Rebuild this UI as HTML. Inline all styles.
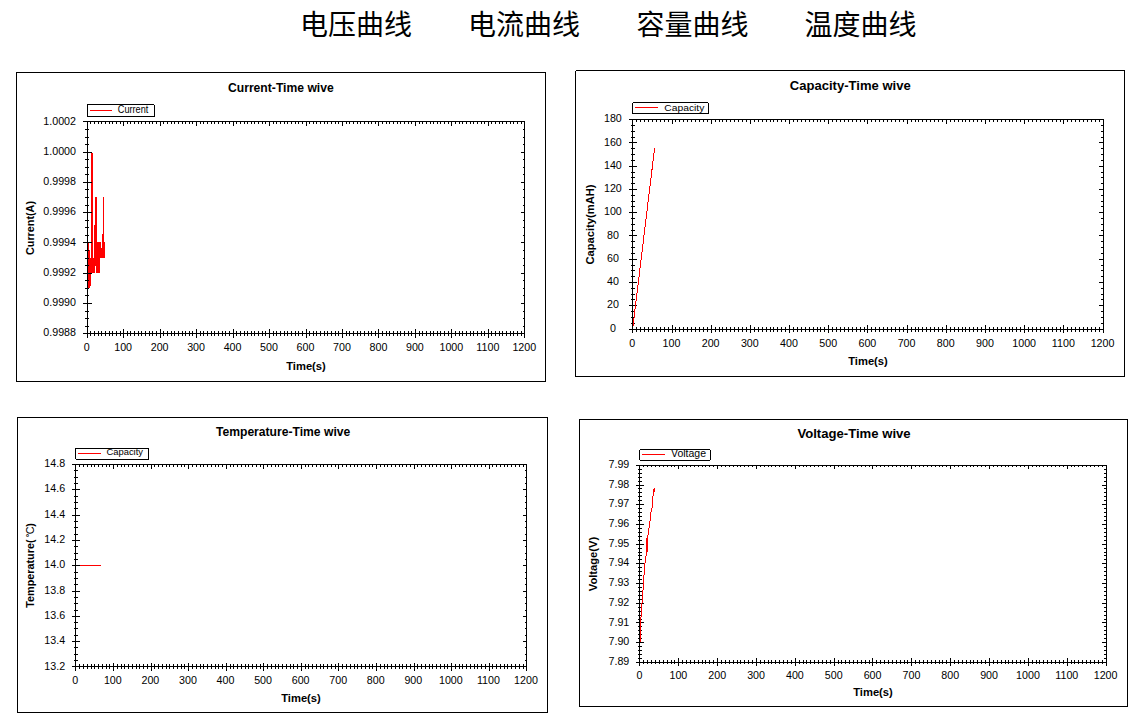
<!DOCTYPE html>
<html><head><meta charset="utf-8"><title>Curves</title>
<style>
html,body{margin:0;padding:0;background:#fff;}
body{width:1141px;height:726px;overflow:hidden;font-family:"Liberation Sans", sans-serif;}
svg{display:block;font-family:"Liberation Sans", sans-serif;}
svg rect{shape-rendering:crispEdges;}
svg text{fill:#000;}
</style></head><body>
<svg width="1141" height="726" viewBox="0 0 1141 726">
<rect x="0" y="0" width="1141" height="726" fill="#fff"/>
<text x="300" y="34.9" font-size="28" text-anchor="start" fill="#000" style='font-family:"Liberation Sans", "Noto Sans CJK SC", sans-serif;'>电压曲线</text>
<text x="468" y="34.9" font-size="28" text-anchor="start" fill="#000" style='font-family:"Liberation Sans", "Noto Sans CJK SC", sans-serif;'>电流曲线</text>
<text x="636.5" y="34.9" font-size="28" text-anchor="start" fill="#000" style='font-family:"Liberation Sans", "Noto Sans CJK SC", sans-serif;'>容量曲线</text>
<text x="804.5" y="34.9" font-size="28" text-anchor="start" fill="#000" style='font-family:"Liberation Sans", "Noto Sans CJK SC", sans-serif;'>温度曲线</text>
<rect x="16" y="72" width="530" height="1" fill="#000"/>
<rect x="16" y="381" width="530" height="1" fill="#000"/>
<rect x="16" y="72" width="1" height="310" fill="#000"/>
<rect x="545" y="72" width="1" height="310" fill="#000"/>
<rect x="88" y="242" width="1" height="46" fill="#f00"/><rect x="89" y="250" width="1" height="38" fill="#f00"/><rect x="90" y="258" width="1" height="28" fill="#f00"/><rect x="91" y="152" width="1" height="121" fill="#f00"/><rect x="92" y="153" width="1" height="120" fill="#f00"/><rect x="93" y="258" width="1" height="15" fill="#f00"/><rect x="94" y="225" width="1" height="48" fill="#f00"/><rect x="95" y="197" width="1" height="69" fill="#f00"/><rect x="96" y="197" width="1" height="76" fill="#f00"/><rect x="97" y="242" width="1" height="31" fill="#f00"/><rect x="98" y="242" width="1" height="31" fill="#f00"/><rect x="99" y="242" width="1" height="31" fill="#f00"/><rect x="100" y="242" width="1" height="16" fill="#f00"/><rect x="101" y="248" width="1" height="10" fill="#f00"/><rect x="102" y="234" width="1" height="24" fill="#f00"/><rect x="103" y="197" width="1" height="61" fill="#f00"/><rect x="104" y="242" width="1" height="16" fill="#f00"/>
<rect x="87" y="121" width="438" height="1" fill="#000"/>
<rect x="87" y="333" width="438" height="1" fill="#000"/>
<rect x="87" y="121" width="1" height="213" fill="#000"/>
<rect x="524" y="121" width="1" height="213" fill="#000"/>
<rect x="87" y="329" width="1" height="9" fill="#000"/>
<rect x="87" y="121" width="1" height="5" fill="#000"/>
<rect x="90" y="331" width="1" height="5" fill="#000"/>
<rect x="90" y="121" width="1" height="3" fill="#000"/>
<rect x="94" y="331" width="1" height="5" fill="#000"/>
<rect x="94" y="121" width="1" height="3" fill="#000"/>
<rect x="98" y="331" width="1" height="5" fill="#000"/>
<rect x="98" y="121" width="1" height="3" fill="#000"/>
<rect x="101" y="331" width="1" height="5" fill="#000"/>
<rect x="101" y="121" width="1" height="3" fill="#000"/>
<rect x="105" y="331" width="1" height="5" fill="#000"/>
<rect x="105" y="121" width="1" height="3" fill="#000"/>
<rect x="109" y="331" width="1" height="5" fill="#000"/>
<rect x="109" y="121" width="1" height="3" fill="#000"/>
<rect x="112" y="331" width="1" height="5" fill="#000"/>
<rect x="112" y="121" width="1" height="3" fill="#000"/>
<rect x="116" y="331" width="1" height="5" fill="#000"/>
<rect x="116" y="121" width="1" height="3" fill="#000"/>
<rect x="120" y="331" width="1" height="5" fill="#000"/>
<rect x="120" y="121" width="1" height="3" fill="#000"/>
<rect x="123" y="329" width="1" height="9" fill="#000"/>
<rect x="123" y="121" width="1" height="5" fill="#000"/>
<rect x="127" y="331" width="1" height="5" fill="#000"/>
<rect x="127" y="121" width="1" height="3" fill="#000"/>
<rect x="130" y="331" width="1" height="5" fill="#000"/>
<rect x="130" y="121" width="1" height="3" fill="#000"/>
<rect x="134" y="331" width="1" height="5" fill="#000"/>
<rect x="134" y="121" width="1" height="3" fill="#000"/>
<rect x="138" y="331" width="1" height="5" fill="#000"/>
<rect x="138" y="121" width="1" height="3" fill="#000"/>
<rect x="141" y="331" width="1" height="5" fill="#000"/>
<rect x="141" y="121" width="1" height="3" fill="#000"/>
<rect x="145" y="331" width="1" height="5" fill="#000"/>
<rect x="145" y="121" width="1" height="3" fill="#000"/>
<rect x="149" y="331" width="1" height="5" fill="#000"/>
<rect x="149" y="121" width="1" height="3" fill="#000"/>
<rect x="152" y="331" width="1" height="5" fill="#000"/>
<rect x="152" y="121" width="1" height="3" fill="#000"/>
<rect x="156" y="331" width="1" height="5" fill="#000"/>
<rect x="156" y="121" width="1" height="3" fill="#000"/>
<rect x="160" y="329" width="1" height="9" fill="#000"/>
<rect x="160" y="121" width="1" height="5" fill="#000"/>
<rect x="163" y="331" width="1" height="5" fill="#000"/>
<rect x="163" y="121" width="1" height="3" fill="#000"/>
<rect x="167" y="331" width="1" height="5" fill="#000"/>
<rect x="167" y="121" width="1" height="3" fill="#000"/>
<rect x="171" y="331" width="1" height="5" fill="#000"/>
<rect x="171" y="121" width="1" height="3" fill="#000"/>
<rect x="174" y="331" width="1" height="5" fill="#000"/>
<rect x="174" y="121" width="1" height="3" fill="#000"/>
<rect x="178" y="331" width="1" height="5" fill="#000"/>
<rect x="178" y="121" width="1" height="3" fill="#000"/>
<rect x="182" y="331" width="1" height="5" fill="#000"/>
<rect x="182" y="121" width="1" height="3" fill="#000"/>
<rect x="185" y="331" width="1" height="5" fill="#000"/>
<rect x="185" y="121" width="1" height="3" fill="#000"/>
<rect x="189" y="331" width="1" height="5" fill="#000"/>
<rect x="189" y="121" width="1" height="3" fill="#000"/>
<rect x="192" y="331" width="1" height="5" fill="#000"/>
<rect x="192" y="121" width="1" height="3" fill="#000"/>
<rect x="196" y="329" width="1" height="9" fill="#000"/>
<rect x="196" y="121" width="1" height="5" fill="#000"/>
<rect x="200" y="331" width="1" height="5" fill="#000"/>
<rect x="200" y="121" width="1" height="3" fill="#000"/>
<rect x="203" y="331" width="1" height="5" fill="#000"/>
<rect x="203" y="121" width="1" height="3" fill="#000"/>
<rect x="207" y="331" width="1" height="5" fill="#000"/>
<rect x="207" y="121" width="1" height="3" fill="#000"/>
<rect x="211" y="331" width="1" height="5" fill="#000"/>
<rect x="211" y="121" width="1" height="3" fill="#000"/>
<rect x="214" y="331" width="1" height="5" fill="#000"/>
<rect x="214" y="121" width="1" height="3" fill="#000"/>
<rect x="218" y="331" width="1" height="5" fill="#000"/>
<rect x="218" y="121" width="1" height="3" fill="#000"/>
<rect x="222" y="331" width="1" height="5" fill="#000"/>
<rect x="222" y="121" width="1" height="3" fill="#000"/>
<rect x="225" y="331" width="1" height="5" fill="#000"/>
<rect x="225" y="121" width="1" height="3" fill="#000"/>
<rect x="229" y="331" width="1" height="5" fill="#000"/>
<rect x="229" y="121" width="1" height="3" fill="#000"/>
<rect x="233" y="329" width="1" height="9" fill="#000"/>
<rect x="233" y="121" width="1" height="5" fill="#000"/>
<rect x="236" y="331" width="1" height="5" fill="#000"/>
<rect x="236" y="121" width="1" height="3" fill="#000"/>
<rect x="240" y="331" width="1" height="5" fill="#000"/>
<rect x="240" y="121" width="1" height="3" fill="#000"/>
<rect x="244" y="331" width="1" height="5" fill="#000"/>
<rect x="244" y="121" width="1" height="3" fill="#000"/>
<rect x="247" y="331" width="1" height="5" fill="#000"/>
<rect x="247" y="121" width="1" height="3" fill="#000"/>
<rect x="251" y="331" width="1" height="5" fill="#000"/>
<rect x="251" y="121" width="1" height="3" fill="#000"/>
<rect x="254" y="331" width="1" height="5" fill="#000"/>
<rect x="254" y="121" width="1" height="3" fill="#000"/>
<rect x="258" y="331" width="1" height="5" fill="#000"/>
<rect x="258" y="121" width="1" height="3" fill="#000"/>
<rect x="262" y="331" width="1" height="5" fill="#000"/>
<rect x="262" y="121" width="1" height="3" fill="#000"/>
<rect x="265" y="331" width="1" height="5" fill="#000"/>
<rect x="265" y="121" width="1" height="3" fill="#000"/>
<rect x="269" y="329" width="1" height="9" fill="#000"/>
<rect x="269" y="121" width="1" height="5" fill="#000"/>
<rect x="273" y="331" width="1" height="5" fill="#000"/>
<rect x="273" y="121" width="1" height="3" fill="#000"/>
<rect x="276" y="331" width="1" height="5" fill="#000"/>
<rect x="276" y="121" width="1" height="3" fill="#000"/>
<rect x="280" y="331" width="1" height="5" fill="#000"/>
<rect x="280" y="121" width="1" height="3" fill="#000"/>
<rect x="284" y="331" width="1" height="5" fill="#000"/>
<rect x="284" y="121" width="1" height="3" fill="#000"/>
<rect x="287" y="331" width="1" height="5" fill="#000"/>
<rect x="287" y="121" width="1" height="3" fill="#000"/>
<rect x="291" y="331" width="1" height="5" fill="#000"/>
<rect x="291" y="121" width="1" height="3" fill="#000"/>
<rect x="295" y="331" width="1" height="5" fill="#000"/>
<rect x="295" y="121" width="1" height="3" fill="#000"/>
<rect x="298" y="331" width="1" height="5" fill="#000"/>
<rect x="298" y="121" width="1" height="3" fill="#000"/>
<rect x="302" y="331" width="1" height="5" fill="#000"/>
<rect x="302" y="121" width="1" height="3" fill="#000"/>
<rect x="306" y="329" width="1" height="9" fill="#000"/>
<rect x="306" y="121" width="1" height="5" fill="#000"/>
<rect x="309" y="331" width="1" height="5" fill="#000"/>
<rect x="309" y="121" width="1" height="3" fill="#000"/>
<rect x="313" y="331" width="1" height="5" fill="#000"/>
<rect x="313" y="121" width="1" height="3" fill="#000"/>
<rect x="316" y="331" width="1" height="5" fill="#000"/>
<rect x="316" y="121" width="1" height="3" fill="#000"/>
<rect x="320" y="331" width="1" height="5" fill="#000"/>
<rect x="320" y="121" width="1" height="3" fill="#000"/>
<rect x="324" y="331" width="1" height="5" fill="#000"/>
<rect x="324" y="121" width="1" height="3" fill="#000"/>
<rect x="327" y="331" width="1" height="5" fill="#000"/>
<rect x="327" y="121" width="1" height="3" fill="#000"/>
<rect x="331" y="331" width="1" height="5" fill="#000"/>
<rect x="331" y="121" width="1" height="3" fill="#000"/>
<rect x="335" y="331" width="1" height="5" fill="#000"/>
<rect x="335" y="121" width="1" height="3" fill="#000"/>
<rect x="338" y="331" width="1" height="5" fill="#000"/>
<rect x="338" y="121" width="1" height="3" fill="#000"/>
<rect x="342" y="329" width="1" height="9" fill="#000"/>
<rect x="342" y="121" width="1" height="5" fill="#000"/>
<rect x="346" y="331" width="1" height="5" fill="#000"/>
<rect x="346" y="121" width="1" height="3" fill="#000"/>
<rect x="349" y="331" width="1" height="5" fill="#000"/>
<rect x="349" y="121" width="1" height="3" fill="#000"/>
<rect x="353" y="331" width="1" height="5" fill="#000"/>
<rect x="353" y="121" width="1" height="3" fill="#000"/>
<rect x="357" y="331" width="1" height="5" fill="#000"/>
<rect x="357" y="121" width="1" height="3" fill="#000"/>
<rect x="360" y="331" width="1" height="5" fill="#000"/>
<rect x="360" y="121" width="1" height="3" fill="#000"/>
<rect x="364" y="331" width="1" height="5" fill="#000"/>
<rect x="364" y="121" width="1" height="3" fill="#000"/>
<rect x="368" y="331" width="1" height="5" fill="#000"/>
<rect x="368" y="121" width="1" height="3" fill="#000"/>
<rect x="371" y="331" width="1" height="5" fill="#000"/>
<rect x="371" y="121" width="1" height="3" fill="#000"/>
<rect x="375" y="331" width="1" height="5" fill="#000"/>
<rect x="375" y="121" width="1" height="3" fill="#000"/>
<rect x="378" y="329" width="1" height="9" fill="#000"/>
<rect x="378" y="121" width="1" height="5" fill="#000"/>
<rect x="382" y="331" width="1" height="5" fill="#000"/>
<rect x="382" y="121" width="1" height="3" fill="#000"/>
<rect x="386" y="331" width="1" height="5" fill="#000"/>
<rect x="386" y="121" width="1" height="3" fill="#000"/>
<rect x="389" y="331" width="1" height="5" fill="#000"/>
<rect x="389" y="121" width="1" height="3" fill="#000"/>
<rect x="393" y="331" width="1" height="5" fill="#000"/>
<rect x="393" y="121" width="1" height="3" fill="#000"/>
<rect x="397" y="331" width="1" height="5" fill="#000"/>
<rect x="397" y="121" width="1" height="3" fill="#000"/>
<rect x="400" y="331" width="1" height="5" fill="#000"/>
<rect x="400" y="121" width="1" height="3" fill="#000"/>
<rect x="404" y="331" width="1" height="5" fill="#000"/>
<rect x="404" y="121" width="1" height="3" fill="#000"/>
<rect x="408" y="331" width="1" height="5" fill="#000"/>
<rect x="408" y="121" width="1" height="3" fill="#000"/>
<rect x="411" y="331" width="1" height="5" fill="#000"/>
<rect x="411" y="121" width="1" height="3" fill="#000"/>
<rect x="415" y="329" width="1" height="9" fill="#000"/>
<rect x="415" y="121" width="1" height="5" fill="#000"/>
<rect x="419" y="331" width="1" height="5" fill="#000"/>
<rect x="419" y="121" width="1" height="3" fill="#000"/>
<rect x="422" y="331" width="1" height="5" fill="#000"/>
<rect x="422" y="121" width="1" height="3" fill="#000"/>
<rect x="426" y="331" width="1" height="5" fill="#000"/>
<rect x="426" y="121" width="1" height="3" fill="#000"/>
<rect x="430" y="331" width="1" height="5" fill="#000"/>
<rect x="430" y="121" width="1" height="3" fill="#000"/>
<rect x="433" y="331" width="1" height="5" fill="#000"/>
<rect x="433" y="121" width="1" height="3" fill="#000"/>
<rect x="437" y="331" width="1" height="5" fill="#000"/>
<rect x="437" y="121" width="1" height="3" fill="#000"/>
<rect x="440" y="331" width="1" height="5" fill="#000"/>
<rect x="440" y="121" width="1" height="3" fill="#000"/>
<rect x="444" y="331" width="1" height="5" fill="#000"/>
<rect x="444" y="121" width="1" height="3" fill="#000"/>
<rect x="448" y="331" width="1" height="5" fill="#000"/>
<rect x="448" y="121" width="1" height="3" fill="#000"/>
<rect x="451" y="329" width="1" height="9" fill="#000"/>
<rect x="451" y="121" width="1" height="5" fill="#000"/>
<rect x="455" y="331" width="1" height="5" fill="#000"/>
<rect x="455" y="121" width="1" height="3" fill="#000"/>
<rect x="459" y="331" width="1" height="5" fill="#000"/>
<rect x="459" y="121" width="1" height="3" fill="#000"/>
<rect x="462" y="331" width="1" height="5" fill="#000"/>
<rect x="462" y="121" width="1" height="3" fill="#000"/>
<rect x="466" y="331" width="1" height="5" fill="#000"/>
<rect x="466" y="121" width="1" height="3" fill="#000"/>
<rect x="470" y="331" width="1" height="5" fill="#000"/>
<rect x="470" y="121" width="1" height="3" fill="#000"/>
<rect x="473" y="331" width="1" height="5" fill="#000"/>
<rect x="473" y="121" width="1" height="3" fill="#000"/>
<rect x="477" y="331" width="1" height="5" fill="#000"/>
<rect x="477" y="121" width="1" height="3" fill="#000"/>
<rect x="481" y="331" width="1" height="5" fill="#000"/>
<rect x="481" y="121" width="1" height="3" fill="#000"/>
<rect x="484" y="331" width="1" height="5" fill="#000"/>
<rect x="484" y="121" width="1" height="3" fill="#000"/>
<rect x="488" y="329" width="1" height="9" fill="#000"/>
<rect x="488" y="121" width="1" height="5" fill="#000"/>
<rect x="491" y="331" width="1" height="5" fill="#000"/>
<rect x="491" y="121" width="1" height="3" fill="#000"/>
<rect x="495" y="331" width="1" height="5" fill="#000"/>
<rect x="495" y="121" width="1" height="3" fill="#000"/>
<rect x="499" y="331" width="1" height="5" fill="#000"/>
<rect x="499" y="121" width="1" height="3" fill="#000"/>
<rect x="502" y="331" width="1" height="5" fill="#000"/>
<rect x="502" y="121" width="1" height="3" fill="#000"/>
<rect x="506" y="331" width="1" height="5" fill="#000"/>
<rect x="506" y="121" width="1" height="3" fill="#000"/>
<rect x="510" y="331" width="1" height="5" fill="#000"/>
<rect x="510" y="121" width="1" height="3" fill="#000"/>
<rect x="513" y="331" width="1" height="5" fill="#000"/>
<rect x="513" y="121" width="1" height="3" fill="#000"/>
<rect x="517" y="331" width="1" height="5" fill="#000"/>
<rect x="517" y="121" width="1" height="3" fill="#000"/>
<rect x="521" y="331" width="1" height="5" fill="#000"/>
<rect x="521" y="121" width="1" height="3" fill="#000"/>
<rect x="524" y="329" width="1" height="9" fill="#000"/>
<rect x="524" y="121" width="1" height="5" fill="#000"/>
<rect x="83" y="121" width="9" height="1" fill="#000"/>
<rect x="521" y="121" width="4" height="1" fill="#000"/>
<rect x="85" y="129" width="4" height="1" fill="#000"/>
<rect x="523" y="129" width="2" height="1" fill="#000"/>
<rect x="85" y="137" width="4" height="1" fill="#000"/>
<rect x="523" y="137" width="2" height="1" fill="#000"/>
<rect x="85" y="144" width="4" height="1" fill="#000"/>
<rect x="523" y="144" width="2" height="1" fill="#000"/>
<rect x="83" y="152" width="9" height="1" fill="#000"/>
<rect x="521" y="152" width="4" height="1" fill="#000"/>
<rect x="85" y="159" width="4" height="1" fill="#000"/>
<rect x="523" y="159" width="2" height="1" fill="#000"/>
<rect x="85" y="167" width="4" height="1" fill="#000"/>
<rect x="523" y="167" width="2" height="1" fill="#000"/>
<rect x="85" y="174" width="4" height="1" fill="#000"/>
<rect x="523" y="174" width="2" height="1" fill="#000"/>
<rect x="83" y="182" width="9" height="1" fill="#000"/>
<rect x="521" y="182" width="4" height="1" fill="#000"/>
<rect x="85" y="189" width="4" height="1" fill="#000"/>
<rect x="523" y="189" width="2" height="1" fill="#000"/>
<rect x="85" y="197" width="4" height="1" fill="#000"/>
<rect x="523" y="197" width="2" height="1" fill="#000"/>
<rect x="85" y="205" width="4" height="1" fill="#000"/>
<rect x="523" y="205" width="2" height="1" fill="#000"/>
<rect x="83" y="212" width="9" height="1" fill="#000"/>
<rect x="521" y="212" width="4" height="1" fill="#000"/>
<rect x="85" y="220" width="4" height="1" fill="#000"/>
<rect x="523" y="220" width="2" height="1" fill="#000"/>
<rect x="85" y="227" width="4" height="1" fill="#000"/>
<rect x="523" y="227" width="2" height="1" fill="#000"/>
<rect x="85" y="235" width="4" height="1" fill="#000"/>
<rect x="523" y="235" width="2" height="1" fill="#000"/>
<rect x="83" y="242" width="9" height="1" fill="#000"/>
<rect x="521" y="242" width="4" height="1" fill="#000"/>
<rect x="85" y="250" width="4" height="1" fill="#000"/>
<rect x="523" y="250" width="2" height="1" fill="#000"/>
<rect x="85" y="258" width="4" height="1" fill="#000"/>
<rect x="523" y="258" width="2" height="1" fill="#000"/>
<rect x="85" y="265" width="4" height="1" fill="#000"/>
<rect x="523" y="265" width="2" height="1" fill="#000"/>
<rect x="83" y="273" width="9" height="1" fill="#000"/>
<rect x="521" y="273" width="4" height="1" fill="#000"/>
<rect x="85" y="280" width="4" height="1" fill="#000"/>
<rect x="523" y="280" width="2" height="1" fill="#000"/>
<rect x="85" y="288" width="4" height="1" fill="#000"/>
<rect x="523" y="288" width="2" height="1" fill="#000"/>
<rect x="85" y="295" width="4" height="1" fill="#000"/>
<rect x="523" y="295" width="2" height="1" fill="#000"/>
<rect x="83" y="303" width="9" height="1" fill="#000"/>
<rect x="521" y="303" width="4" height="1" fill="#000"/>
<rect x="85" y="311" width="4" height="1" fill="#000"/>
<rect x="523" y="311" width="2" height="1" fill="#000"/>
<rect x="85" y="318" width="4" height="1" fill="#000"/>
<rect x="523" y="318" width="2" height="1" fill="#000"/>
<rect x="85" y="326" width="4" height="1" fill="#000"/>
<rect x="523" y="326" width="2" height="1" fill="#000"/>
<rect x="83" y="333" width="9" height="1" fill="#000"/>
<rect x="521" y="333" width="4" height="1" fill="#000"/>
<text x="86.7" y="351" font-size="10.7" text-anchor="middle">0</text>
<text x="123.168" y="351" font-size="10.7" text-anchor="middle">100</text>
<text x="159.637" y="351" font-size="10.7" text-anchor="middle">200</text>
<text x="196.105" y="351" font-size="10.7" text-anchor="middle">300</text>
<text x="232.573" y="351" font-size="10.7" text-anchor="middle">400</text>
<text x="269.042" y="351" font-size="10.7" text-anchor="middle">500</text>
<text x="305.51" y="351" font-size="10.7" text-anchor="middle">600</text>
<text x="341.978" y="351" font-size="10.7" text-anchor="middle">700</text>
<text x="378.447" y="351" font-size="10.7" text-anchor="middle">800</text>
<text x="414.915" y="351" font-size="10.7" text-anchor="middle">900</text>
<text x="451.383" y="351" font-size="10.7" text-anchor="middle">1000</text>
<text x="487.852" y="351" font-size="10.7" text-anchor="middle">1100</text>
<text x="524.32" y="351" font-size="10.7" text-anchor="middle">1200</text>
<text x="76" y="124.5" font-size="10.7" text-anchor="end">1.0002</text>
<text x="76" y="154.76" font-size="10.7" text-anchor="end">1.0000</text>
<text x="76" y="185.02" font-size="10.7" text-anchor="end">0.9998</text>
<text x="76" y="215.28" font-size="10.7" text-anchor="end">0.9996</text>
<text x="76" y="245.54" font-size="10.7" text-anchor="end">0.9994</text>
<text x="76" y="275.8" font-size="10.7" text-anchor="end">0.9992</text>
<text x="76" y="306.06" font-size="10.7" text-anchor="end">0.9990</text>
<text x="76" y="336.32" font-size="10.7" text-anchor="end">0.9988</text>
<text transform="translate(280.85 91.9) scale(0.95 1)" font-size="12.8" text-anchor="middle" font-weight="bold">Current-Time wive</text>
<text x="306" y="369.7" font-size="11.2" text-anchor="middle" font-weight="bold">Time(s)</text>
<g transform="translate(34 228) rotate(-90)">
<text x="0" y="0" font-size="10.8" text-anchor="middle" font-weight="bold">Current(A)</text>
</g>
<rect x="87" y="104" width="68" height="13" fill="#000"/>
<rect x="88" y="105" width="66" height="11" fill="#fff"/>
<rect x="154" y="104" width="1" height="1" fill="#fff"/>
<rect x="90" y="110" width="22" height="1" fill="#f00"/>
<text transform="translate(117.8 113) scale(0.915 1)" font-size="10" text-anchor="start">Current</text>
<rect x="575" y="70" width="550" height="1" fill="#000"/>
<rect x="575" y="376" width="550" height="1" fill="#000"/>
<rect x="575" y="70" width="1" height="307" fill="#000"/>
<rect x="1124" y="70" width="1" height="307" fill="#000"/>
<rect x="575" y="70" width="1" height="1" fill="#fff"/>
<rect x="632" y="119" width="472" height="1" fill="#000"/>
<rect x="632" y="329" width="472" height="1" fill="#000"/>
<rect x="632" y="119" width="1" height="211" fill="#000"/>
<rect x="1103" y="119" width="1" height="211" fill="#000"/>
<rect x="632" y="325" width="1" height="8" fill="#000"/>
<rect x="632" y="119" width="1" height="5" fill="#000"/>
<rect x="636" y="327" width="1" height="5" fill="#000"/>
<rect x="636" y="119" width="1" height="3" fill="#000"/>
<rect x="640" y="327" width="1" height="5" fill="#000"/>
<rect x="640" y="119" width="1" height="3" fill="#000"/>
<rect x="644" y="327" width="1" height="5" fill="#000"/>
<rect x="644" y="119" width="1" height="3" fill="#000"/>
<rect x="648" y="327" width="1" height="5" fill="#000"/>
<rect x="648" y="119" width="1" height="3" fill="#000"/>
<rect x="652" y="327" width="1" height="5" fill="#000"/>
<rect x="652" y="119" width="1" height="3" fill="#000"/>
<rect x="656" y="327" width="1" height="5" fill="#000"/>
<rect x="656" y="119" width="1" height="3" fill="#000"/>
<rect x="660" y="327" width="1" height="5" fill="#000"/>
<rect x="660" y="119" width="1" height="3" fill="#000"/>
<rect x="664" y="327" width="1" height="5" fill="#000"/>
<rect x="664" y="119" width="1" height="3" fill="#000"/>
<rect x="668" y="327" width="1" height="5" fill="#000"/>
<rect x="668" y="119" width="1" height="3" fill="#000"/>
<rect x="672" y="325" width="1" height="8" fill="#000"/>
<rect x="672" y="119" width="1" height="5" fill="#000"/>
<rect x="675" y="327" width="1" height="5" fill="#000"/>
<rect x="675" y="119" width="1" height="3" fill="#000"/>
<rect x="679" y="327" width="1" height="5" fill="#000"/>
<rect x="679" y="119" width="1" height="3" fill="#000"/>
<rect x="683" y="327" width="1" height="5" fill="#000"/>
<rect x="683" y="119" width="1" height="3" fill="#000"/>
<rect x="687" y="327" width="1" height="5" fill="#000"/>
<rect x="687" y="119" width="1" height="3" fill="#000"/>
<rect x="691" y="327" width="1" height="5" fill="#000"/>
<rect x="691" y="119" width="1" height="3" fill="#000"/>
<rect x="695" y="327" width="1" height="5" fill="#000"/>
<rect x="695" y="119" width="1" height="3" fill="#000"/>
<rect x="699" y="327" width="1" height="5" fill="#000"/>
<rect x="699" y="119" width="1" height="3" fill="#000"/>
<rect x="703" y="327" width="1" height="5" fill="#000"/>
<rect x="703" y="119" width="1" height="3" fill="#000"/>
<rect x="707" y="327" width="1" height="5" fill="#000"/>
<rect x="707" y="119" width="1" height="3" fill="#000"/>
<rect x="711" y="325" width="1" height="8" fill="#000"/>
<rect x="711" y="119" width="1" height="5" fill="#000"/>
<rect x="715" y="327" width="1" height="5" fill="#000"/>
<rect x="715" y="119" width="1" height="3" fill="#000"/>
<rect x="719" y="327" width="1" height="5" fill="#000"/>
<rect x="719" y="119" width="1" height="3" fill="#000"/>
<rect x="722" y="327" width="1" height="5" fill="#000"/>
<rect x="722" y="119" width="1" height="3" fill="#000"/>
<rect x="726" y="327" width="1" height="5" fill="#000"/>
<rect x="726" y="119" width="1" height="3" fill="#000"/>
<rect x="730" y="327" width="1" height="5" fill="#000"/>
<rect x="730" y="119" width="1" height="3" fill="#000"/>
<rect x="734" y="327" width="1" height="5" fill="#000"/>
<rect x="734" y="119" width="1" height="3" fill="#000"/>
<rect x="738" y="327" width="1" height="5" fill="#000"/>
<rect x="738" y="119" width="1" height="3" fill="#000"/>
<rect x="742" y="327" width="1" height="5" fill="#000"/>
<rect x="742" y="119" width="1" height="3" fill="#000"/>
<rect x="746" y="327" width="1" height="5" fill="#000"/>
<rect x="746" y="119" width="1" height="3" fill="#000"/>
<rect x="750" y="325" width="1" height="8" fill="#000"/>
<rect x="750" y="119" width="1" height="5" fill="#000"/>
<rect x="754" y="327" width="1" height="5" fill="#000"/>
<rect x="754" y="119" width="1" height="3" fill="#000"/>
<rect x="758" y="327" width="1" height="5" fill="#000"/>
<rect x="758" y="119" width="1" height="3" fill="#000"/>
<rect x="762" y="327" width="1" height="5" fill="#000"/>
<rect x="762" y="119" width="1" height="3" fill="#000"/>
<rect x="766" y="327" width="1" height="5" fill="#000"/>
<rect x="766" y="119" width="1" height="3" fill="#000"/>
<rect x="770" y="327" width="1" height="5" fill="#000"/>
<rect x="770" y="119" width="1" height="3" fill="#000"/>
<rect x="773" y="327" width="1" height="5" fill="#000"/>
<rect x="773" y="119" width="1" height="3" fill="#000"/>
<rect x="777" y="327" width="1" height="5" fill="#000"/>
<rect x="777" y="119" width="1" height="3" fill="#000"/>
<rect x="781" y="327" width="1" height="5" fill="#000"/>
<rect x="781" y="119" width="1" height="3" fill="#000"/>
<rect x="785" y="327" width="1" height="5" fill="#000"/>
<rect x="785" y="119" width="1" height="3" fill="#000"/>
<rect x="789" y="325" width="1" height="8" fill="#000"/>
<rect x="789" y="119" width="1" height="5" fill="#000"/>
<rect x="793" y="327" width="1" height="5" fill="#000"/>
<rect x="793" y="119" width="1" height="3" fill="#000"/>
<rect x="797" y="327" width="1" height="5" fill="#000"/>
<rect x="797" y="119" width="1" height="3" fill="#000"/>
<rect x="801" y="327" width="1" height="5" fill="#000"/>
<rect x="801" y="119" width="1" height="3" fill="#000"/>
<rect x="805" y="327" width="1" height="5" fill="#000"/>
<rect x="805" y="119" width="1" height="3" fill="#000"/>
<rect x="809" y="327" width="1" height="5" fill="#000"/>
<rect x="809" y="119" width="1" height="3" fill="#000"/>
<rect x="813" y="327" width="1" height="5" fill="#000"/>
<rect x="813" y="119" width="1" height="3" fill="#000"/>
<rect x="817" y="327" width="1" height="5" fill="#000"/>
<rect x="817" y="119" width="1" height="3" fill="#000"/>
<rect x="820" y="327" width="1" height="5" fill="#000"/>
<rect x="820" y="119" width="1" height="3" fill="#000"/>
<rect x="824" y="327" width="1" height="5" fill="#000"/>
<rect x="824" y="119" width="1" height="3" fill="#000"/>
<rect x="828" y="325" width="1" height="8" fill="#000"/>
<rect x="828" y="119" width="1" height="5" fill="#000"/>
<rect x="832" y="327" width="1" height="5" fill="#000"/>
<rect x="832" y="119" width="1" height="3" fill="#000"/>
<rect x="836" y="327" width="1" height="5" fill="#000"/>
<rect x="836" y="119" width="1" height="3" fill="#000"/>
<rect x="840" y="327" width="1" height="5" fill="#000"/>
<rect x="840" y="119" width="1" height="3" fill="#000"/>
<rect x="844" y="327" width="1" height="5" fill="#000"/>
<rect x="844" y="119" width="1" height="3" fill="#000"/>
<rect x="848" y="327" width="1" height="5" fill="#000"/>
<rect x="848" y="119" width="1" height="3" fill="#000"/>
<rect x="852" y="327" width="1" height="5" fill="#000"/>
<rect x="852" y="119" width="1" height="3" fill="#000"/>
<rect x="856" y="327" width="1" height="5" fill="#000"/>
<rect x="856" y="119" width="1" height="3" fill="#000"/>
<rect x="860" y="327" width="1" height="5" fill="#000"/>
<rect x="860" y="119" width="1" height="3" fill="#000"/>
<rect x="864" y="327" width="1" height="5" fill="#000"/>
<rect x="864" y="119" width="1" height="3" fill="#000"/>
<rect x="867" y="325" width="1" height="8" fill="#000"/>
<rect x="867" y="119" width="1" height="5" fill="#000"/>
<rect x="871" y="327" width="1" height="5" fill="#000"/>
<rect x="871" y="119" width="1" height="3" fill="#000"/>
<rect x="875" y="327" width="1" height="5" fill="#000"/>
<rect x="875" y="119" width="1" height="3" fill="#000"/>
<rect x="879" y="327" width="1" height="5" fill="#000"/>
<rect x="879" y="119" width="1" height="3" fill="#000"/>
<rect x="883" y="327" width="1" height="5" fill="#000"/>
<rect x="883" y="119" width="1" height="3" fill="#000"/>
<rect x="887" y="327" width="1" height="5" fill="#000"/>
<rect x="887" y="119" width="1" height="3" fill="#000"/>
<rect x="891" y="327" width="1" height="5" fill="#000"/>
<rect x="891" y="119" width="1" height="3" fill="#000"/>
<rect x="895" y="327" width="1" height="5" fill="#000"/>
<rect x="895" y="119" width="1" height="3" fill="#000"/>
<rect x="899" y="327" width="1" height="5" fill="#000"/>
<rect x="899" y="119" width="1" height="3" fill="#000"/>
<rect x="903" y="327" width="1" height="5" fill="#000"/>
<rect x="903" y="119" width="1" height="3" fill="#000"/>
<rect x="907" y="325" width="1" height="8" fill="#000"/>
<rect x="907" y="119" width="1" height="5" fill="#000"/>
<rect x="911" y="327" width="1" height="5" fill="#000"/>
<rect x="911" y="119" width="1" height="3" fill="#000"/>
<rect x="915" y="327" width="1" height="5" fill="#000"/>
<rect x="915" y="119" width="1" height="3" fill="#000"/>
<rect x="918" y="327" width="1" height="5" fill="#000"/>
<rect x="918" y="119" width="1" height="3" fill="#000"/>
<rect x="922" y="327" width="1" height="5" fill="#000"/>
<rect x="922" y="119" width="1" height="3" fill="#000"/>
<rect x="926" y="327" width="1" height="5" fill="#000"/>
<rect x="926" y="119" width="1" height="3" fill="#000"/>
<rect x="930" y="327" width="1" height="5" fill="#000"/>
<rect x="930" y="119" width="1" height="3" fill="#000"/>
<rect x="934" y="327" width="1" height="5" fill="#000"/>
<rect x="934" y="119" width="1" height="3" fill="#000"/>
<rect x="938" y="327" width="1" height="5" fill="#000"/>
<rect x="938" y="119" width="1" height="3" fill="#000"/>
<rect x="942" y="327" width="1" height="5" fill="#000"/>
<rect x="942" y="119" width="1" height="3" fill="#000"/>
<rect x="946" y="325" width="1" height="8" fill="#000"/>
<rect x="946" y="119" width="1" height="5" fill="#000"/>
<rect x="950" y="327" width="1" height="5" fill="#000"/>
<rect x="950" y="119" width="1" height="3" fill="#000"/>
<rect x="954" y="327" width="1" height="5" fill="#000"/>
<rect x="954" y="119" width="1" height="3" fill="#000"/>
<rect x="958" y="327" width="1" height="5" fill="#000"/>
<rect x="958" y="119" width="1" height="3" fill="#000"/>
<rect x="962" y="327" width="1" height="5" fill="#000"/>
<rect x="962" y="119" width="1" height="3" fill="#000"/>
<rect x="965" y="327" width="1" height="5" fill="#000"/>
<rect x="965" y="119" width="1" height="3" fill="#000"/>
<rect x="969" y="327" width="1" height="5" fill="#000"/>
<rect x="969" y="119" width="1" height="3" fill="#000"/>
<rect x="973" y="327" width="1" height="5" fill="#000"/>
<rect x="973" y="119" width="1" height="3" fill="#000"/>
<rect x="977" y="327" width="1" height="5" fill="#000"/>
<rect x="977" y="119" width="1" height="3" fill="#000"/>
<rect x="981" y="327" width="1" height="5" fill="#000"/>
<rect x="981" y="119" width="1" height="3" fill="#000"/>
<rect x="985" y="325" width="1" height="8" fill="#000"/>
<rect x="985" y="119" width="1" height="5" fill="#000"/>
<rect x="989" y="327" width="1" height="5" fill="#000"/>
<rect x="989" y="119" width="1" height="3" fill="#000"/>
<rect x="993" y="327" width="1" height="5" fill="#000"/>
<rect x="993" y="119" width="1" height="3" fill="#000"/>
<rect x="997" y="327" width="1" height="5" fill="#000"/>
<rect x="997" y="119" width="1" height="3" fill="#000"/>
<rect x="1001" y="327" width="1" height="5" fill="#000"/>
<rect x="1001" y="119" width="1" height="3" fill="#000"/>
<rect x="1005" y="327" width="1" height="5" fill="#000"/>
<rect x="1005" y="119" width="1" height="3" fill="#000"/>
<rect x="1009" y="327" width="1" height="5" fill="#000"/>
<rect x="1009" y="119" width="1" height="3" fill="#000"/>
<rect x="1012" y="327" width="1" height="5" fill="#000"/>
<rect x="1012" y="119" width="1" height="3" fill="#000"/>
<rect x="1016" y="327" width="1" height="5" fill="#000"/>
<rect x="1016" y="119" width="1" height="3" fill="#000"/>
<rect x="1020" y="327" width="1" height="5" fill="#000"/>
<rect x="1020" y="119" width="1" height="3" fill="#000"/>
<rect x="1024" y="325" width="1" height="8" fill="#000"/>
<rect x="1024" y="119" width="1" height="5" fill="#000"/>
<rect x="1028" y="327" width="1" height="5" fill="#000"/>
<rect x="1028" y="119" width="1" height="3" fill="#000"/>
<rect x="1032" y="327" width="1" height="5" fill="#000"/>
<rect x="1032" y="119" width="1" height="3" fill="#000"/>
<rect x="1036" y="327" width="1" height="5" fill="#000"/>
<rect x="1036" y="119" width="1" height="3" fill="#000"/>
<rect x="1040" y="327" width="1" height="5" fill="#000"/>
<rect x="1040" y="119" width="1" height="3" fill="#000"/>
<rect x="1044" y="327" width="1" height="5" fill="#000"/>
<rect x="1044" y="119" width="1" height="3" fill="#000"/>
<rect x="1048" y="327" width="1" height="5" fill="#000"/>
<rect x="1048" y="119" width="1" height="3" fill="#000"/>
<rect x="1052" y="327" width="1" height="5" fill="#000"/>
<rect x="1052" y="119" width="1" height="3" fill="#000"/>
<rect x="1056" y="327" width="1" height="5" fill="#000"/>
<rect x="1056" y="119" width="1" height="3" fill="#000"/>
<rect x="1060" y="327" width="1" height="5" fill="#000"/>
<rect x="1060" y="119" width="1" height="3" fill="#000"/>
<rect x="1063" y="325" width="1" height="8" fill="#000"/>
<rect x="1063" y="119" width="1" height="5" fill="#000"/>
<rect x="1067" y="327" width="1" height="5" fill="#000"/>
<rect x="1067" y="119" width="1" height="3" fill="#000"/>
<rect x="1071" y="327" width="1" height="5" fill="#000"/>
<rect x="1071" y="119" width="1" height="3" fill="#000"/>
<rect x="1075" y="327" width="1" height="5" fill="#000"/>
<rect x="1075" y="119" width="1" height="3" fill="#000"/>
<rect x="1079" y="327" width="1" height="5" fill="#000"/>
<rect x="1079" y="119" width="1" height="3" fill="#000"/>
<rect x="1083" y="327" width="1" height="5" fill="#000"/>
<rect x="1083" y="119" width="1" height="3" fill="#000"/>
<rect x="1087" y="327" width="1" height="5" fill="#000"/>
<rect x="1087" y="119" width="1" height="3" fill="#000"/>
<rect x="1091" y="327" width="1" height="5" fill="#000"/>
<rect x="1091" y="119" width="1" height="3" fill="#000"/>
<rect x="1095" y="327" width="1" height="5" fill="#000"/>
<rect x="1095" y="119" width="1" height="3" fill="#000"/>
<rect x="1099" y="327" width="1" height="5" fill="#000"/>
<rect x="1099" y="119" width="1" height="3" fill="#000"/>
<rect x="1103" y="325" width="1" height="8" fill="#000"/>
<rect x="1103" y="119" width="1" height="5" fill="#000"/>
<rect x="629" y="119" width="8" height="1" fill="#000"/>
<rect x="1099" y="119" width="5" height="1" fill="#000"/>
<rect x="631" y="125" width="4" height="1" fill="#000"/>
<rect x="1101" y="125" width="3" height="1" fill="#000"/>
<rect x="631" y="131" width="4" height="1" fill="#000"/>
<rect x="1101" y="131" width="3" height="1" fill="#000"/>
<rect x="631" y="137" width="4" height="1" fill="#000"/>
<rect x="1101" y="137" width="3" height="1" fill="#000"/>
<rect x="629" y="142" width="8" height="1" fill="#000"/>
<rect x="1099" y="142" width="5" height="1" fill="#000"/>
<rect x="631" y="148" width="4" height="1" fill="#000"/>
<rect x="1101" y="148" width="3" height="1" fill="#000"/>
<rect x="631" y="154" width="4" height="1" fill="#000"/>
<rect x="1101" y="154" width="3" height="1" fill="#000"/>
<rect x="631" y="160" width="4" height="1" fill="#000"/>
<rect x="1101" y="160" width="3" height="1" fill="#000"/>
<rect x="629" y="166" width="8" height="1" fill="#000"/>
<rect x="1099" y="166" width="5" height="1" fill="#000"/>
<rect x="631" y="172" width="4" height="1" fill="#000"/>
<rect x="1101" y="172" width="3" height="1" fill="#000"/>
<rect x="631" y="177" width="4" height="1" fill="#000"/>
<rect x="1101" y="177" width="3" height="1" fill="#000"/>
<rect x="631" y="183" width="4" height="1" fill="#000"/>
<rect x="1101" y="183" width="3" height="1" fill="#000"/>
<rect x="629" y="189" width="8" height="1" fill="#000"/>
<rect x="1099" y="189" width="5" height="1" fill="#000"/>
<rect x="631" y="195" width="4" height="1" fill="#000"/>
<rect x="1101" y="195" width="3" height="1" fill="#000"/>
<rect x="631" y="201" width="4" height="1" fill="#000"/>
<rect x="1101" y="201" width="3" height="1" fill="#000"/>
<rect x="631" y="206" width="4" height="1" fill="#000"/>
<rect x="1101" y="206" width="3" height="1" fill="#000"/>
<rect x="629" y="212" width="8" height="1" fill="#000"/>
<rect x="1099" y="212" width="5" height="1" fill="#000"/>
<rect x="631" y="218" width="4" height="1" fill="#000"/>
<rect x="1101" y="218" width="3" height="1" fill="#000"/>
<rect x="631" y="224" width="4" height="1" fill="#000"/>
<rect x="1101" y="224" width="3" height="1" fill="#000"/>
<rect x="631" y="230" width="4" height="1" fill="#000"/>
<rect x="1101" y="230" width="3" height="1" fill="#000"/>
<rect x="629" y="235" width="8" height="1" fill="#000"/>
<rect x="1099" y="235" width="5" height="1" fill="#000"/>
<rect x="631" y="241" width="4" height="1" fill="#000"/>
<rect x="1101" y="241" width="3" height="1" fill="#000"/>
<rect x="631" y="247" width="4" height="1" fill="#000"/>
<rect x="1101" y="247" width="3" height="1" fill="#000"/>
<rect x="631" y="253" width="4" height="1" fill="#000"/>
<rect x="1101" y="253" width="3" height="1" fill="#000"/>
<rect x="629" y="259" width="8" height="1" fill="#000"/>
<rect x="1099" y="259" width="5" height="1" fill="#000"/>
<rect x="631" y="265" width="4" height="1" fill="#000"/>
<rect x="1101" y="265" width="3" height="1" fill="#000"/>
<rect x="631" y="270" width="4" height="1" fill="#000"/>
<rect x="1101" y="270" width="3" height="1" fill="#000"/>
<rect x="631" y="276" width="4" height="1" fill="#000"/>
<rect x="1101" y="276" width="3" height="1" fill="#000"/>
<rect x="629" y="282" width="8" height="1" fill="#000"/>
<rect x="1099" y="282" width="5" height="1" fill="#000"/>
<rect x="631" y="288" width="4" height="1" fill="#000"/>
<rect x="1101" y="288" width="3" height="1" fill="#000"/>
<rect x="631" y="294" width="4" height="1" fill="#000"/>
<rect x="1101" y="294" width="3" height="1" fill="#000"/>
<rect x="631" y="299" width="4" height="1" fill="#000"/>
<rect x="1101" y="299" width="3" height="1" fill="#000"/>
<rect x="629" y="305" width="8" height="1" fill="#000"/>
<rect x="1099" y="305" width="5" height="1" fill="#000"/>
<rect x="631" y="311" width="4" height="1" fill="#000"/>
<rect x="1101" y="311" width="3" height="1" fill="#000"/>
<rect x="631" y="317" width="4" height="1" fill="#000"/>
<rect x="1101" y="317" width="3" height="1" fill="#000"/>
<rect x="631" y="323" width="4" height="1" fill="#000"/>
<rect x="1101" y="323" width="3" height="1" fill="#000"/>
<rect x="629" y="329" width="8" height="1" fill="#000"/>
<rect x="1099" y="329" width="5" height="1" fill="#000"/>
<polyline points="633,326 654.6,148.3" fill="none" stroke="#f00" stroke-width="1" shape-rendering="crispEdges"/>
<text x="632.25" y="347" font-size="10.7" text-anchor="middle">0</text>
<text x="671.44" y="347" font-size="10.7" text-anchor="middle">100</text>
<text x="710.63" y="347" font-size="10.7" text-anchor="middle">200</text>
<text x="749.82" y="347" font-size="10.7" text-anchor="middle">300</text>
<text x="789.01" y="347" font-size="10.7" text-anchor="middle">400</text>
<text x="828.2" y="347" font-size="10.7" text-anchor="middle">500</text>
<text x="867.39" y="347" font-size="10.7" text-anchor="middle">600</text>
<text x="906.58" y="347" font-size="10.7" text-anchor="middle">700</text>
<text x="945.77" y="347" font-size="10.7" text-anchor="middle">800</text>
<text x="984.96" y="347" font-size="10.7" text-anchor="middle">900</text>
<text x="1024.15" y="347" font-size="10.7" text-anchor="middle">1000</text>
<text x="1063.34" y="347" font-size="10.7" text-anchor="middle">1100</text>
<text x="1102.53" y="347" font-size="10.7" text-anchor="middle">1200</text>
<text x="612.9" y="122.28" font-size="10.7" text-anchor="middle">180</text>
<text x="612.9" y="145.54" font-size="10.7" text-anchor="middle">160</text>
<text x="612.9" y="168.8" font-size="10.7" text-anchor="middle">140</text>
<text x="612.9" y="192.06" font-size="10.7" text-anchor="middle">120</text>
<text x="612.9" y="215.32" font-size="10.7" text-anchor="middle">100</text>
<text x="612.9" y="238.58" font-size="10.7" text-anchor="middle">80</text>
<text x="612.9" y="261.84" font-size="10.7" text-anchor="middle">60</text>
<text x="612.9" y="285.1" font-size="10.7" text-anchor="middle">40</text>
<text x="612.9" y="308.36" font-size="10.7" text-anchor="middle">20</text>
<text x="612.9" y="331.62" font-size="10.7" text-anchor="middle">0</text>
<text x="850.25" y="89.6" font-size="13.05" text-anchor="middle" font-weight="bold">Capacity-Time wive</text>
<text x="868" y="365" font-size="11.2" text-anchor="middle" font-weight="bold">Time(s)</text>
<g transform="translate(594 224.5) rotate(-90)">
<text x="0" y="0" font-size="11.2" text-anchor="middle" font-weight="bold">Capacity(mAH)</text>
</g>
<rect x="632" y="102" width="77" height="12" fill="#000"/>
<rect x="633" y="103" width="75" height="10" fill="#fff"/>
<rect x="632" y="102" width="1" height="1" fill="#fff"/>
<rect x="708" y="102" width="1" height="1" fill="#fff"/>
<rect x="635" y="107" width="23" height="1" fill="#f00"/>
<text transform="translate(664.3 110.8) scale(1.085 1)" font-size="9.5" text-anchor="start">Capacity</text>
<rect x="17" y="417" width="531" height="1" fill="#000"/>
<rect x="17" y="712" width="531" height="1" fill="#000"/>
<rect x="17" y="417" width="1" height="296" fill="#000"/>
<rect x="547" y="417" width="1" height="296" fill="#000"/>
<rect x="76" y="565" width="25" height="1" fill="#f00"/>
<rect x="75" y="464" width="452" height="1" fill="#000"/>
<rect x="75" y="666" width="452" height="1" fill="#000"/>
<rect x="75" y="464" width="1" height="203" fill="#000"/>
<rect x="526" y="464" width="1" height="203" fill="#000"/>
<rect x="75" y="663" width="1" height="8" fill="#000"/>
<rect x="75" y="464" width="1" height="5" fill="#000"/>
<rect x="79" y="664" width="1" height="5" fill="#000"/>
<rect x="79" y="464" width="1" height="3" fill="#000"/>
<rect x="83" y="664" width="1" height="5" fill="#000"/>
<rect x="83" y="464" width="1" height="3" fill="#000"/>
<rect x="87" y="664" width="1" height="5" fill="#000"/>
<rect x="87" y="464" width="1" height="3" fill="#000"/>
<rect x="91" y="664" width="1" height="5" fill="#000"/>
<rect x="91" y="464" width="1" height="3" fill="#000"/>
<rect x="94" y="664" width="1" height="5" fill="#000"/>
<rect x="94" y="464" width="1" height="3" fill="#000"/>
<rect x="98" y="664" width="1" height="5" fill="#000"/>
<rect x="98" y="464" width="1" height="3" fill="#000"/>
<rect x="102" y="664" width="1" height="5" fill="#000"/>
<rect x="102" y="464" width="1" height="3" fill="#000"/>
<rect x="106" y="664" width="1" height="5" fill="#000"/>
<rect x="106" y="464" width="1" height="3" fill="#000"/>
<rect x="109" y="664" width="1" height="5" fill="#000"/>
<rect x="109" y="464" width="1" height="3" fill="#000"/>
<rect x="113" y="663" width="1" height="8" fill="#000"/>
<rect x="113" y="464" width="1" height="5" fill="#000"/>
<rect x="117" y="664" width="1" height="5" fill="#000"/>
<rect x="117" y="464" width="1" height="3" fill="#000"/>
<rect x="121" y="664" width="1" height="5" fill="#000"/>
<rect x="121" y="464" width="1" height="3" fill="#000"/>
<rect x="124" y="664" width="1" height="5" fill="#000"/>
<rect x="124" y="464" width="1" height="3" fill="#000"/>
<rect x="128" y="664" width="1" height="5" fill="#000"/>
<rect x="128" y="464" width="1" height="3" fill="#000"/>
<rect x="132" y="664" width="1" height="5" fill="#000"/>
<rect x="132" y="464" width="1" height="3" fill="#000"/>
<rect x="136" y="664" width="1" height="5" fill="#000"/>
<rect x="136" y="464" width="1" height="3" fill="#000"/>
<rect x="139" y="664" width="1" height="5" fill="#000"/>
<rect x="139" y="464" width="1" height="3" fill="#000"/>
<rect x="143" y="664" width="1" height="5" fill="#000"/>
<rect x="143" y="464" width="1" height="3" fill="#000"/>
<rect x="147" y="664" width="1" height="5" fill="#000"/>
<rect x="147" y="464" width="1" height="3" fill="#000"/>
<rect x="151" y="663" width="1" height="8" fill="#000"/>
<rect x="151" y="464" width="1" height="5" fill="#000"/>
<rect x="154" y="664" width="1" height="5" fill="#000"/>
<rect x="154" y="464" width="1" height="3" fill="#000"/>
<rect x="158" y="664" width="1" height="5" fill="#000"/>
<rect x="158" y="464" width="1" height="3" fill="#000"/>
<rect x="162" y="664" width="1" height="5" fill="#000"/>
<rect x="162" y="464" width="1" height="3" fill="#000"/>
<rect x="166" y="664" width="1" height="5" fill="#000"/>
<rect x="166" y="464" width="1" height="3" fill="#000"/>
<rect x="169" y="664" width="1" height="5" fill="#000"/>
<rect x="169" y="464" width="1" height="3" fill="#000"/>
<rect x="173" y="664" width="1" height="5" fill="#000"/>
<rect x="173" y="464" width="1" height="3" fill="#000"/>
<rect x="177" y="664" width="1" height="5" fill="#000"/>
<rect x="177" y="464" width="1" height="3" fill="#000"/>
<rect x="181" y="664" width="1" height="5" fill="#000"/>
<rect x="181" y="464" width="1" height="3" fill="#000"/>
<rect x="184" y="664" width="1" height="5" fill="#000"/>
<rect x="184" y="464" width="1" height="3" fill="#000"/>
<rect x="188" y="663" width="1" height="8" fill="#000"/>
<rect x="188" y="464" width="1" height="5" fill="#000"/>
<rect x="192" y="664" width="1" height="5" fill="#000"/>
<rect x="192" y="464" width="1" height="3" fill="#000"/>
<rect x="196" y="664" width="1" height="5" fill="#000"/>
<rect x="196" y="464" width="1" height="3" fill="#000"/>
<rect x="200" y="664" width="1" height="5" fill="#000"/>
<rect x="200" y="464" width="1" height="3" fill="#000"/>
<rect x="203" y="664" width="1" height="5" fill="#000"/>
<rect x="203" y="464" width="1" height="3" fill="#000"/>
<rect x="207" y="664" width="1" height="5" fill="#000"/>
<rect x="207" y="464" width="1" height="3" fill="#000"/>
<rect x="211" y="664" width="1" height="5" fill="#000"/>
<rect x="211" y="464" width="1" height="3" fill="#000"/>
<rect x="215" y="664" width="1" height="5" fill="#000"/>
<rect x="215" y="464" width="1" height="3" fill="#000"/>
<rect x="218" y="664" width="1" height="5" fill="#000"/>
<rect x="218" y="464" width="1" height="3" fill="#000"/>
<rect x="222" y="664" width="1" height="5" fill="#000"/>
<rect x="222" y="464" width="1" height="3" fill="#000"/>
<rect x="226" y="663" width="1" height="8" fill="#000"/>
<rect x="226" y="464" width="1" height="5" fill="#000"/>
<rect x="230" y="664" width="1" height="5" fill="#000"/>
<rect x="230" y="464" width="1" height="3" fill="#000"/>
<rect x="233" y="664" width="1" height="5" fill="#000"/>
<rect x="233" y="464" width="1" height="3" fill="#000"/>
<rect x="237" y="664" width="1" height="5" fill="#000"/>
<rect x="237" y="464" width="1" height="3" fill="#000"/>
<rect x="241" y="664" width="1" height="5" fill="#000"/>
<rect x="241" y="464" width="1" height="3" fill="#000"/>
<rect x="245" y="664" width="1" height="5" fill="#000"/>
<rect x="245" y="464" width="1" height="3" fill="#000"/>
<rect x="248" y="664" width="1" height="5" fill="#000"/>
<rect x="248" y="464" width="1" height="3" fill="#000"/>
<rect x="252" y="664" width="1" height="5" fill="#000"/>
<rect x="252" y="464" width="1" height="3" fill="#000"/>
<rect x="256" y="664" width="1" height="5" fill="#000"/>
<rect x="256" y="464" width="1" height="3" fill="#000"/>
<rect x="260" y="664" width="1" height="5" fill="#000"/>
<rect x="260" y="464" width="1" height="3" fill="#000"/>
<rect x="263" y="663" width="1" height="8" fill="#000"/>
<rect x="263" y="464" width="1" height="5" fill="#000"/>
<rect x="267" y="664" width="1" height="5" fill="#000"/>
<rect x="267" y="464" width="1" height="3" fill="#000"/>
<rect x="271" y="664" width="1" height="5" fill="#000"/>
<rect x="271" y="464" width="1" height="3" fill="#000"/>
<rect x="275" y="664" width="1" height="5" fill="#000"/>
<rect x="275" y="464" width="1" height="3" fill="#000"/>
<rect x="278" y="664" width="1" height="5" fill="#000"/>
<rect x="278" y="464" width="1" height="3" fill="#000"/>
<rect x="282" y="664" width="1" height="5" fill="#000"/>
<rect x="282" y="464" width="1" height="3" fill="#000"/>
<rect x="286" y="664" width="1" height="5" fill="#000"/>
<rect x="286" y="464" width="1" height="3" fill="#000"/>
<rect x="290" y="664" width="1" height="5" fill="#000"/>
<rect x="290" y="464" width="1" height="3" fill="#000"/>
<rect x="293" y="664" width="1" height="5" fill="#000"/>
<rect x="293" y="464" width="1" height="3" fill="#000"/>
<rect x="297" y="664" width="1" height="5" fill="#000"/>
<rect x="297" y="464" width="1" height="3" fill="#000"/>
<rect x="301" y="663" width="1" height="8" fill="#000"/>
<rect x="301" y="464" width="1" height="5" fill="#000"/>
<rect x="305" y="664" width="1" height="5" fill="#000"/>
<rect x="305" y="464" width="1" height="3" fill="#000"/>
<rect x="308" y="664" width="1" height="5" fill="#000"/>
<rect x="308" y="464" width="1" height="3" fill="#000"/>
<rect x="312" y="664" width="1" height="5" fill="#000"/>
<rect x="312" y="464" width="1" height="3" fill="#000"/>
<rect x="316" y="664" width="1" height="5" fill="#000"/>
<rect x="316" y="464" width="1" height="3" fill="#000"/>
<rect x="320" y="664" width="1" height="5" fill="#000"/>
<rect x="320" y="464" width="1" height="3" fill="#000"/>
<rect x="323" y="664" width="1" height="5" fill="#000"/>
<rect x="323" y="464" width="1" height="3" fill="#000"/>
<rect x="327" y="664" width="1" height="5" fill="#000"/>
<rect x="327" y="464" width="1" height="3" fill="#000"/>
<rect x="331" y="664" width="1" height="5" fill="#000"/>
<rect x="331" y="464" width="1" height="3" fill="#000"/>
<rect x="335" y="664" width="1" height="5" fill="#000"/>
<rect x="335" y="464" width="1" height="3" fill="#000"/>
<rect x="338" y="663" width="1" height="8" fill="#000"/>
<rect x="338" y="464" width="1" height="5" fill="#000"/>
<rect x="342" y="664" width="1" height="5" fill="#000"/>
<rect x="342" y="464" width="1" height="3" fill="#000"/>
<rect x="346" y="664" width="1" height="5" fill="#000"/>
<rect x="346" y="464" width="1" height="3" fill="#000"/>
<rect x="350" y="664" width="1" height="5" fill="#000"/>
<rect x="350" y="464" width="1" height="3" fill="#000"/>
<rect x="354" y="664" width="1" height="5" fill="#000"/>
<rect x="354" y="464" width="1" height="3" fill="#000"/>
<rect x="357" y="664" width="1" height="5" fill="#000"/>
<rect x="357" y="464" width="1" height="3" fill="#000"/>
<rect x="361" y="664" width="1" height="5" fill="#000"/>
<rect x="361" y="464" width="1" height="3" fill="#000"/>
<rect x="365" y="664" width="1" height="5" fill="#000"/>
<rect x="365" y="464" width="1" height="3" fill="#000"/>
<rect x="369" y="664" width="1" height="5" fill="#000"/>
<rect x="369" y="464" width="1" height="3" fill="#000"/>
<rect x="372" y="664" width="1" height="5" fill="#000"/>
<rect x="372" y="464" width="1" height="3" fill="#000"/>
<rect x="376" y="663" width="1" height="8" fill="#000"/>
<rect x="376" y="464" width="1" height="5" fill="#000"/>
<rect x="380" y="664" width="1" height="5" fill="#000"/>
<rect x="380" y="464" width="1" height="3" fill="#000"/>
<rect x="384" y="664" width="1" height="5" fill="#000"/>
<rect x="384" y="464" width="1" height="3" fill="#000"/>
<rect x="387" y="664" width="1" height="5" fill="#000"/>
<rect x="387" y="464" width="1" height="3" fill="#000"/>
<rect x="391" y="664" width="1" height="5" fill="#000"/>
<rect x="391" y="464" width="1" height="3" fill="#000"/>
<rect x="395" y="664" width="1" height="5" fill="#000"/>
<rect x="395" y="464" width="1" height="3" fill="#000"/>
<rect x="399" y="664" width="1" height="5" fill="#000"/>
<rect x="399" y="464" width="1" height="3" fill="#000"/>
<rect x="402" y="664" width="1" height="5" fill="#000"/>
<rect x="402" y="464" width="1" height="3" fill="#000"/>
<rect x="406" y="664" width="1" height="5" fill="#000"/>
<rect x="406" y="464" width="1" height="3" fill="#000"/>
<rect x="410" y="664" width="1" height="5" fill="#000"/>
<rect x="410" y="464" width="1" height="3" fill="#000"/>
<rect x="414" y="663" width="1" height="8" fill="#000"/>
<rect x="414" y="464" width="1" height="5" fill="#000"/>
<rect x="417" y="664" width="1" height="5" fill="#000"/>
<rect x="417" y="464" width="1" height="3" fill="#000"/>
<rect x="421" y="664" width="1" height="5" fill="#000"/>
<rect x="421" y="464" width="1" height="3" fill="#000"/>
<rect x="425" y="664" width="1" height="5" fill="#000"/>
<rect x="425" y="464" width="1" height="3" fill="#000"/>
<rect x="429" y="664" width="1" height="5" fill="#000"/>
<rect x="429" y="464" width="1" height="3" fill="#000"/>
<rect x="432" y="664" width="1" height="5" fill="#000"/>
<rect x="432" y="464" width="1" height="3" fill="#000"/>
<rect x="436" y="664" width="1" height="5" fill="#000"/>
<rect x="436" y="464" width="1" height="3" fill="#000"/>
<rect x="440" y="664" width="1" height="5" fill="#000"/>
<rect x="440" y="464" width="1" height="3" fill="#000"/>
<rect x="444" y="664" width="1" height="5" fill="#000"/>
<rect x="444" y="464" width="1" height="3" fill="#000"/>
<rect x="447" y="664" width="1" height="5" fill="#000"/>
<rect x="447" y="464" width="1" height="3" fill="#000"/>
<rect x="451" y="663" width="1" height="8" fill="#000"/>
<rect x="451" y="464" width="1" height="5" fill="#000"/>
<rect x="455" y="664" width="1" height="5" fill="#000"/>
<rect x="455" y="464" width="1" height="3" fill="#000"/>
<rect x="459" y="664" width="1" height="5" fill="#000"/>
<rect x="459" y="464" width="1" height="3" fill="#000"/>
<rect x="462" y="664" width="1" height="5" fill="#000"/>
<rect x="462" y="464" width="1" height="3" fill="#000"/>
<rect x="466" y="664" width="1" height="5" fill="#000"/>
<rect x="466" y="464" width="1" height="3" fill="#000"/>
<rect x="470" y="664" width="1" height="5" fill="#000"/>
<rect x="470" y="464" width="1" height="3" fill="#000"/>
<rect x="474" y="664" width="1" height="5" fill="#000"/>
<rect x="474" y="464" width="1" height="3" fill="#000"/>
<rect x="477" y="664" width="1" height="5" fill="#000"/>
<rect x="477" y="464" width="1" height="3" fill="#000"/>
<rect x="481" y="664" width="1" height="5" fill="#000"/>
<rect x="481" y="464" width="1" height="3" fill="#000"/>
<rect x="485" y="664" width="1" height="5" fill="#000"/>
<rect x="485" y="464" width="1" height="3" fill="#000"/>
<rect x="489" y="663" width="1" height="8" fill="#000"/>
<rect x="489" y="464" width="1" height="5" fill="#000"/>
<rect x="492" y="664" width="1" height="5" fill="#000"/>
<rect x="492" y="464" width="1" height="3" fill="#000"/>
<rect x="496" y="664" width="1" height="5" fill="#000"/>
<rect x="496" y="464" width="1" height="3" fill="#000"/>
<rect x="500" y="664" width="1" height="5" fill="#000"/>
<rect x="500" y="464" width="1" height="3" fill="#000"/>
<rect x="504" y="664" width="1" height="5" fill="#000"/>
<rect x="504" y="464" width="1" height="3" fill="#000"/>
<rect x="507" y="664" width="1" height="5" fill="#000"/>
<rect x="507" y="464" width="1" height="3" fill="#000"/>
<rect x="511" y="664" width="1" height="5" fill="#000"/>
<rect x="511" y="464" width="1" height="3" fill="#000"/>
<rect x="515" y="664" width="1" height="5" fill="#000"/>
<rect x="515" y="464" width="1" height="3" fill="#000"/>
<rect x="519" y="664" width="1" height="5" fill="#000"/>
<rect x="519" y="464" width="1" height="3" fill="#000"/>
<rect x="523" y="664" width="1" height="5" fill="#000"/>
<rect x="523" y="464" width="1" height="3" fill="#000"/>
<rect x="526" y="663" width="1" height="8" fill="#000"/>
<rect x="526" y="464" width="1" height="5" fill="#000"/>
<rect x="72" y="464" width="8" height="1" fill="#000"/>
<rect x="523" y="464" width="4" height="1" fill="#000"/>
<rect x="74" y="470" width="4" height="1" fill="#000"/>
<rect x="525" y="470" width="2" height="1" fill="#000"/>
<rect x="74" y="477" width="4" height="1" fill="#000"/>
<rect x="525" y="477" width="2" height="1" fill="#000"/>
<rect x="74" y="483" width="4" height="1" fill="#000"/>
<rect x="525" y="483" width="2" height="1" fill="#000"/>
<rect x="72" y="489" width="8" height="1" fill="#000"/>
<rect x="523" y="489" width="4" height="1" fill="#000"/>
<rect x="74" y="496" width="4" height="1" fill="#000"/>
<rect x="525" y="496" width="2" height="1" fill="#000"/>
<rect x="74" y="502" width="4" height="1" fill="#000"/>
<rect x="525" y="502" width="2" height="1" fill="#000"/>
<rect x="74" y="508" width="4" height="1" fill="#000"/>
<rect x="525" y="508" width="2" height="1" fill="#000"/>
<rect x="72" y="515" width="8" height="1" fill="#000"/>
<rect x="523" y="515" width="4" height="1" fill="#000"/>
<rect x="74" y="521" width="4" height="1" fill="#000"/>
<rect x="525" y="521" width="2" height="1" fill="#000"/>
<rect x="74" y="527" width="4" height="1" fill="#000"/>
<rect x="525" y="527" width="2" height="1" fill="#000"/>
<rect x="74" y="534" width="4" height="1" fill="#000"/>
<rect x="525" y="534" width="2" height="1" fill="#000"/>
<rect x="72" y="540" width="8" height="1" fill="#000"/>
<rect x="523" y="540" width="4" height="1" fill="#000"/>
<rect x="74" y="546" width="4" height="1" fill="#000"/>
<rect x="525" y="546" width="2" height="1" fill="#000"/>
<rect x="74" y="553" width="4" height="1" fill="#000"/>
<rect x="525" y="553" width="2" height="1" fill="#000"/>
<rect x="74" y="559" width="4" height="1" fill="#000"/>
<rect x="525" y="559" width="2" height="1" fill="#000"/>
<rect x="72" y="565" width="8" height="1" fill="#000"/>
<rect x="523" y="565" width="4" height="1" fill="#000"/>
<rect x="74" y="572" width="4" height="1" fill="#000"/>
<rect x="525" y="572" width="2" height="1" fill="#000"/>
<rect x="74" y="578" width="4" height="1" fill="#000"/>
<rect x="525" y="578" width="2" height="1" fill="#000"/>
<rect x="74" y="584" width="4" height="1" fill="#000"/>
<rect x="525" y="584" width="2" height="1" fill="#000"/>
<rect x="72" y="591" width="8" height="1" fill="#000"/>
<rect x="523" y="591" width="4" height="1" fill="#000"/>
<rect x="74" y="597" width="4" height="1" fill="#000"/>
<rect x="525" y="597" width="2" height="1" fill="#000"/>
<rect x="74" y="603" width="4" height="1" fill="#000"/>
<rect x="525" y="603" width="2" height="1" fill="#000"/>
<rect x="74" y="610" width="4" height="1" fill="#000"/>
<rect x="525" y="610" width="2" height="1" fill="#000"/>
<rect x="72" y="616" width="8" height="1" fill="#000"/>
<rect x="523" y="616" width="4" height="1" fill="#000"/>
<rect x="74" y="622" width="4" height="1" fill="#000"/>
<rect x="525" y="622" width="2" height="1" fill="#000"/>
<rect x="74" y="628" width="4" height="1" fill="#000"/>
<rect x="525" y="628" width="2" height="1" fill="#000"/>
<rect x="74" y="635" width="4" height="1" fill="#000"/>
<rect x="525" y="635" width="2" height="1" fill="#000"/>
<rect x="72" y="641" width="8" height="1" fill="#000"/>
<rect x="523" y="641" width="4" height="1" fill="#000"/>
<rect x="74" y="647" width="4" height="1" fill="#000"/>
<rect x="525" y="647" width="2" height="1" fill="#000"/>
<rect x="74" y="654" width="4" height="1" fill="#000"/>
<rect x="525" y="654" width="2" height="1" fill="#000"/>
<rect x="74" y="660" width="4" height="1" fill="#000"/>
<rect x="525" y="660" width="2" height="1" fill="#000"/>
<rect x="72" y="666" width="8" height="1" fill="#000"/>
<rect x="523" y="666" width="4" height="1" fill="#000"/>
<text x="75.25" y="684" font-size="10.7" text-anchor="middle">0</text>
<text x="112.811" y="684" font-size="10.7" text-anchor="middle">100</text>
<text x="150.372" y="684" font-size="10.7" text-anchor="middle">200</text>
<text x="187.932" y="684" font-size="10.7" text-anchor="middle">300</text>
<text x="225.493" y="684" font-size="10.7" text-anchor="middle">400</text>
<text x="263.054" y="684" font-size="10.7" text-anchor="middle">500</text>
<text x="300.615" y="684" font-size="10.7" text-anchor="middle">600</text>
<text x="338.176" y="684" font-size="10.7" text-anchor="middle">700</text>
<text x="375.737" y="684" font-size="10.7" text-anchor="middle">800</text>
<text x="413.297" y="684" font-size="10.7" text-anchor="middle">900</text>
<text x="450.858" y="684" font-size="10.7" text-anchor="middle">1000</text>
<text x="488.419" y="684" font-size="10.7" text-anchor="middle">1100</text>
<text x="525.98" y="684" font-size="10.7" text-anchor="middle">1200</text>
<text x="65.1" y="467.12" font-size="10.7" text-anchor="end">14.8</text>
<text x="65.1" y="492.423" font-size="10.7" text-anchor="end">14.6</text>
<text x="65.1" y="517.725" font-size="10.7" text-anchor="end">14.4</text>
<text x="65.1" y="543.028" font-size="10.7" text-anchor="end">14.2</text>
<text x="65.1" y="568.33" font-size="10.7" text-anchor="end">14.0</text>
<text x="65.1" y="593.633" font-size="10.7" text-anchor="end">13.8</text>
<text x="65.1" y="618.935" font-size="10.7" text-anchor="end">13.6</text>
<text x="65.1" y="644.238" font-size="10.7" text-anchor="end">13.4</text>
<text x="65.1" y="669.54" font-size="10.7" text-anchor="end">13.2</text>
<text transform="translate(283.1 435.9) scale(0.956 1)" font-size="12.7" text-anchor="middle" font-weight="bold">Temperature-Time wive</text>
<text x="301" y="702" font-size="11.2" text-anchor="middle" font-weight="bold">Time(s)</text>
<g transform="translate(34.1 565.3) rotate(-90)">
<text x="-42.4" y="0" font-size="10.8" text-anchor="start" font-weight="bold">Temperature(</text><text x="28.0" y="-1.7" font-size="9" text-anchor="start" font-weight="bold">°</text><text x="31.1" y="0" font-size="10.8" text-anchor="start">C</text><text x="38.6" y="0" font-size="10.8" text-anchor="start" font-weight="bold">)</text>
</g>
<rect x="75" y="448" width="74" height="12" fill="#000"/>
<rect x="76" y="449" width="72" height="10" fill="#fff"/>
<rect x="75" y="459" width="1" height="1" fill="#fff"/>
<rect x="78" y="453" width="23" height="1" fill="#f00"/>
<text x="106.5" y="454.8" font-size="9.4" text-anchor="start">Capacity</text>
<rect x="579" y="419" width="549" height="1" fill="#000"/>
<rect x="579" y="706" width="549" height="1" fill="#000"/>
<rect x="579" y="419" width="1" height="288" fill="#000"/>
<rect x="1127" y="419" width="1" height="288" fill="#000"/>
<rect x="639" y="465" width="468" height="1" fill="#000"/>
<rect x="639" y="662" width="468" height="1" fill="#000"/>
<rect x="639" y="465" width="1" height="198" fill="#000"/>
<rect x="1106" y="465" width="1" height="198" fill="#000"/>
<rect x="639" y="658" width="1" height="8" fill="#000"/>
<rect x="639" y="465" width="1" height="4" fill="#000"/>
<rect x="643" y="660" width="1" height="4" fill="#000"/>
<rect x="643" y="465" width="1" height="2" fill="#000"/>
<rect x="647" y="660" width="1" height="4" fill="#000"/>
<rect x="647" y="465" width="1" height="2" fill="#000"/>
<rect x="651" y="660" width="1" height="4" fill="#000"/>
<rect x="651" y="465" width="1" height="2" fill="#000"/>
<rect x="655" y="660" width="1" height="4" fill="#000"/>
<rect x="655" y="465" width="1" height="2" fill="#000"/>
<rect x="659" y="660" width="1" height="4" fill="#000"/>
<rect x="659" y="465" width="1" height="2" fill="#000"/>
<rect x="663" y="660" width="1" height="4" fill="#000"/>
<rect x="663" y="465" width="1" height="2" fill="#000"/>
<rect x="667" y="660" width="1" height="4" fill="#000"/>
<rect x="667" y="465" width="1" height="2" fill="#000"/>
<rect x="671" y="660" width="1" height="4" fill="#000"/>
<rect x="671" y="465" width="1" height="2" fill="#000"/>
<rect x="674" y="660" width="1" height="4" fill="#000"/>
<rect x="674" y="465" width="1" height="2" fill="#000"/>
<rect x="678" y="658" width="1" height="8" fill="#000"/>
<rect x="678" y="465" width="1" height="4" fill="#000"/>
<rect x="682" y="660" width="1" height="4" fill="#000"/>
<rect x="682" y="465" width="1" height="2" fill="#000"/>
<rect x="686" y="660" width="1" height="4" fill="#000"/>
<rect x="686" y="465" width="1" height="2" fill="#000"/>
<rect x="690" y="660" width="1" height="4" fill="#000"/>
<rect x="690" y="465" width="1" height="2" fill="#000"/>
<rect x="694" y="660" width="1" height="4" fill="#000"/>
<rect x="694" y="465" width="1" height="2" fill="#000"/>
<rect x="698" y="660" width="1" height="4" fill="#000"/>
<rect x="698" y="465" width="1" height="2" fill="#000"/>
<rect x="702" y="660" width="1" height="4" fill="#000"/>
<rect x="702" y="465" width="1" height="2" fill="#000"/>
<rect x="705" y="660" width="1" height="4" fill="#000"/>
<rect x="705" y="465" width="1" height="2" fill="#000"/>
<rect x="709" y="660" width="1" height="4" fill="#000"/>
<rect x="709" y="465" width="1" height="2" fill="#000"/>
<rect x="713" y="660" width="1" height="4" fill="#000"/>
<rect x="713" y="465" width="1" height="2" fill="#000"/>
<rect x="717" y="658" width="1" height="8" fill="#000"/>
<rect x="717" y="465" width="1" height="4" fill="#000"/>
<rect x="721" y="660" width="1" height="4" fill="#000"/>
<rect x="721" y="465" width="1" height="2" fill="#000"/>
<rect x="725" y="660" width="1" height="4" fill="#000"/>
<rect x="725" y="465" width="1" height="2" fill="#000"/>
<rect x="729" y="660" width="1" height="4" fill="#000"/>
<rect x="729" y="465" width="1" height="2" fill="#000"/>
<rect x="733" y="660" width="1" height="4" fill="#000"/>
<rect x="733" y="465" width="1" height="2" fill="#000"/>
<rect x="737" y="660" width="1" height="4" fill="#000"/>
<rect x="737" y="465" width="1" height="2" fill="#000"/>
<rect x="740" y="660" width="1" height="4" fill="#000"/>
<rect x="740" y="465" width="1" height="2" fill="#000"/>
<rect x="744" y="660" width="1" height="4" fill="#000"/>
<rect x="744" y="465" width="1" height="2" fill="#000"/>
<rect x="748" y="660" width="1" height="4" fill="#000"/>
<rect x="748" y="465" width="1" height="2" fill="#000"/>
<rect x="752" y="660" width="1" height="4" fill="#000"/>
<rect x="752" y="465" width="1" height="2" fill="#000"/>
<rect x="756" y="658" width="1" height="8" fill="#000"/>
<rect x="756" y="465" width="1" height="4" fill="#000"/>
<rect x="760" y="660" width="1" height="4" fill="#000"/>
<rect x="760" y="465" width="1" height="2" fill="#000"/>
<rect x="764" y="660" width="1" height="4" fill="#000"/>
<rect x="764" y="465" width="1" height="2" fill="#000"/>
<rect x="768" y="660" width="1" height="4" fill="#000"/>
<rect x="768" y="465" width="1" height="2" fill="#000"/>
<rect x="771" y="660" width="1" height="4" fill="#000"/>
<rect x="771" y="465" width="1" height="2" fill="#000"/>
<rect x="775" y="660" width="1" height="4" fill="#000"/>
<rect x="775" y="465" width="1" height="2" fill="#000"/>
<rect x="779" y="660" width="1" height="4" fill="#000"/>
<rect x="779" y="465" width="1" height="2" fill="#000"/>
<rect x="783" y="660" width="1" height="4" fill="#000"/>
<rect x="783" y="465" width="1" height="2" fill="#000"/>
<rect x="787" y="660" width="1" height="4" fill="#000"/>
<rect x="787" y="465" width="1" height="2" fill="#000"/>
<rect x="791" y="660" width="1" height="4" fill="#000"/>
<rect x="791" y="465" width="1" height="2" fill="#000"/>
<rect x="795" y="658" width="1" height="8" fill="#000"/>
<rect x="795" y="465" width="1" height="4" fill="#000"/>
<rect x="799" y="660" width="1" height="4" fill="#000"/>
<rect x="799" y="465" width="1" height="2" fill="#000"/>
<rect x="803" y="660" width="1" height="4" fill="#000"/>
<rect x="803" y="465" width="1" height="2" fill="#000"/>
<rect x="806" y="660" width="1" height="4" fill="#000"/>
<rect x="806" y="465" width="1" height="2" fill="#000"/>
<rect x="810" y="660" width="1" height="4" fill="#000"/>
<rect x="810" y="465" width="1" height="2" fill="#000"/>
<rect x="814" y="660" width="1" height="4" fill="#000"/>
<rect x="814" y="465" width="1" height="2" fill="#000"/>
<rect x="818" y="660" width="1" height="4" fill="#000"/>
<rect x="818" y="465" width="1" height="2" fill="#000"/>
<rect x="822" y="660" width="1" height="4" fill="#000"/>
<rect x="822" y="465" width="1" height="2" fill="#000"/>
<rect x="826" y="660" width="1" height="4" fill="#000"/>
<rect x="826" y="465" width="1" height="2" fill="#000"/>
<rect x="830" y="660" width="1" height="4" fill="#000"/>
<rect x="830" y="465" width="1" height="2" fill="#000"/>
<rect x="834" y="658" width="1" height="8" fill="#000"/>
<rect x="834" y="465" width="1" height="4" fill="#000"/>
<rect x="838" y="660" width="1" height="4" fill="#000"/>
<rect x="838" y="465" width="1" height="2" fill="#000"/>
<rect x="841" y="660" width="1" height="4" fill="#000"/>
<rect x="841" y="465" width="1" height="2" fill="#000"/>
<rect x="845" y="660" width="1" height="4" fill="#000"/>
<rect x="845" y="465" width="1" height="2" fill="#000"/>
<rect x="849" y="660" width="1" height="4" fill="#000"/>
<rect x="849" y="465" width="1" height="2" fill="#000"/>
<rect x="853" y="660" width="1" height="4" fill="#000"/>
<rect x="853" y="465" width="1" height="2" fill="#000"/>
<rect x="857" y="660" width="1" height="4" fill="#000"/>
<rect x="857" y="465" width="1" height="2" fill="#000"/>
<rect x="861" y="660" width="1" height="4" fill="#000"/>
<rect x="861" y="465" width="1" height="2" fill="#000"/>
<rect x="865" y="660" width="1" height="4" fill="#000"/>
<rect x="865" y="465" width="1" height="2" fill="#000"/>
<rect x="869" y="660" width="1" height="4" fill="#000"/>
<rect x="869" y="465" width="1" height="2" fill="#000"/>
<rect x="872" y="658" width="1" height="8" fill="#000"/>
<rect x="872" y="465" width="1" height="4" fill="#000"/>
<rect x="876" y="660" width="1" height="4" fill="#000"/>
<rect x="876" y="465" width="1" height="2" fill="#000"/>
<rect x="880" y="660" width="1" height="4" fill="#000"/>
<rect x="880" y="465" width="1" height="2" fill="#000"/>
<rect x="884" y="660" width="1" height="4" fill="#000"/>
<rect x="884" y="465" width="1" height="2" fill="#000"/>
<rect x="888" y="660" width="1" height="4" fill="#000"/>
<rect x="888" y="465" width="1" height="2" fill="#000"/>
<rect x="892" y="660" width="1" height="4" fill="#000"/>
<rect x="892" y="465" width="1" height="2" fill="#000"/>
<rect x="896" y="660" width="1" height="4" fill="#000"/>
<rect x="896" y="465" width="1" height="2" fill="#000"/>
<rect x="900" y="660" width="1" height="4" fill="#000"/>
<rect x="900" y="465" width="1" height="2" fill="#000"/>
<rect x="904" y="660" width="1" height="4" fill="#000"/>
<rect x="904" y="465" width="1" height="2" fill="#000"/>
<rect x="907" y="660" width="1" height="4" fill="#000"/>
<rect x="907" y="465" width="1" height="2" fill="#000"/>
<rect x="911" y="658" width="1" height="8" fill="#000"/>
<rect x="911" y="465" width="1" height="4" fill="#000"/>
<rect x="915" y="660" width="1" height="4" fill="#000"/>
<rect x="915" y="465" width="1" height="2" fill="#000"/>
<rect x="919" y="660" width="1" height="4" fill="#000"/>
<rect x="919" y="465" width="1" height="2" fill="#000"/>
<rect x="923" y="660" width="1" height="4" fill="#000"/>
<rect x="923" y="465" width="1" height="2" fill="#000"/>
<rect x="927" y="660" width="1" height="4" fill="#000"/>
<rect x="927" y="465" width="1" height="2" fill="#000"/>
<rect x="931" y="660" width="1" height="4" fill="#000"/>
<rect x="931" y="465" width="1" height="2" fill="#000"/>
<rect x="935" y="660" width="1" height="4" fill="#000"/>
<rect x="935" y="465" width="1" height="2" fill="#000"/>
<rect x="939" y="660" width="1" height="4" fill="#000"/>
<rect x="939" y="465" width="1" height="2" fill="#000"/>
<rect x="942" y="660" width="1" height="4" fill="#000"/>
<rect x="942" y="465" width="1" height="2" fill="#000"/>
<rect x="946" y="660" width="1" height="4" fill="#000"/>
<rect x="946" y="465" width="1" height="2" fill="#000"/>
<rect x="950" y="658" width="1" height="8" fill="#000"/>
<rect x="950" y="465" width="1" height="4" fill="#000"/>
<rect x="954" y="660" width="1" height="4" fill="#000"/>
<rect x="954" y="465" width="1" height="2" fill="#000"/>
<rect x="958" y="660" width="1" height="4" fill="#000"/>
<rect x="958" y="465" width="1" height="2" fill="#000"/>
<rect x="962" y="660" width="1" height="4" fill="#000"/>
<rect x="962" y="465" width="1" height="2" fill="#000"/>
<rect x="966" y="660" width="1" height="4" fill="#000"/>
<rect x="966" y="465" width="1" height="2" fill="#000"/>
<rect x="970" y="660" width="1" height="4" fill="#000"/>
<rect x="970" y="465" width="1" height="2" fill="#000"/>
<rect x="973" y="660" width="1" height="4" fill="#000"/>
<rect x="973" y="465" width="1" height="2" fill="#000"/>
<rect x="977" y="660" width="1" height="4" fill="#000"/>
<rect x="977" y="465" width="1" height="2" fill="#000"/>
<rect x="981" y="660" width="1" height="4" fill="#000"/>
<rect x="981" y="465" width="1" height="2" fill="#000"/>
<rect x="985" y="660" width="1" height="4" fill="#000"/>
<rect x="985" y="465" width="1" height="2" fill="#000"/>
<rect x="989" y="658" width="1" height="8" fill="#000"/>
<rect x="989" y="465" width="1" height="4" fill="#000"/>
<rect x="993" y="660" width="1" height="4" fill="#000"/>
<rect x="993" y="465" width="1" height="2" fill="#000"/>
<rect x="997" y="660" width="1" height="4" fill="#000"/>
<rect x="997" y="465" width="1" height="2" fill="#000"/>
<rect x="1001" y="660" width="1" height="4" fill="#000"/>
<rect x="1001" y="465" width="1" height="2" fill="#000"/>
<rect x="1005" y="660" width="1" height="4" fill="#000"/>
<rect x="1005" y="465" width="1" height="2" fill="#000"/>
<rect x="1008" y="660" width="1" height="4" fill="#000"/>
<rect x="1008" y="465" width="1" height="2" fill="#000"/>
<rect x="1012" y="660" width="1" height="4" fill="#000"/>
<rect x="1012" y="465" width="1" height="2" fill="#000"/>
<rect x="1016" y="660" width="1" height="4" fill="#000"/>
<rect x="1016" y="465" width="1" height="2" fill="#000"/>
<rect x="1020" y="660" width="1" height="4" fill="#000"/>
<rect x="1020" y="465" width="1" height="2" fill="#000"/>
<rect x="1024" y="660" width="1" height="4" fill="#000"/>
<rect x="1024" y="465" width="1" height="2" fill="#000"/>
<rect x="1028" y="658" width="1" height="8" fill="#000"/>
<rect x="1028" y="465" width="1" height="4" fill="#000"/>
<rect x="1032" y="660" width="1" height="4" fill="#000"/>
<rect x="1032" y="465" width="1" height="2" fill="#000"/>
<rect x="1036" y="660" width="1" height="4" fill="#000"/>
<rect x="1036" y="465" width="1" height="2" fill="#000"/>
<rect x="1039" y="660" width="1" height="4" fill="#000"/>
<rect x="1039" y="465" width="1" height="2" fill="#000"/>
<rect x="1043" y="660" width="1" height="4" fill="#000"/>
<rect x="1043" y="465" width="1" height="2" fill="#000"/>
<rect x="1047" y="660" width="1" height="4" fill="#000"/>
<rect x="1047" y="465" width="1" height="2" fill="#000"/>
<rect x="1051" y="660" width="1" height="4" fill="#000"/>
<rect x="1051" y="465" width="1" height="2" fill="#000"/>
<rect x="1055" y="660" width="1" height="4" fill="#000"/>
<rect x="1055" y="465" width="1" height="2" fill="#000"/>
<rect x="1059" y="660" width="1" height="4" fill="#000"/>
<rect x="1059" y="465" width="1" height="2" fill="#000"/>
<rect x="1063" y="660" width="1" height="4" fill="#000"/>
<rect x="1063" y="465" width="1" height="2" fill="#000"/>
<rect x="1067" y="658" width="1" height="8" fill="#000"/>
<rect x="1067" y="465" width="1" height="4" fill="#000"/>
<rect x="1071" y="660" width="1" height="4" fill="#000"/>
<rect x="1071" y="465" width="1" height="2" fill="#000"/>
<rect x="1074" y="660" width="1" height="4" fill="#000"/>
<rect x="1074" y="465" width="1" height="2" fill="#000"/>
<rect x="1078" y="660" width="1" height="4" fill="#000"/>
<rect x="1078" y="465" width="1" height="2" fill="#000"/>
<rect x="1082" y="660" width="1" height="4" fill="#000"/>
<rect x="1082" y="465" width="1" height="2" fill="#000"/>
<rect x="1086" y="660" width="1" height="4" fill="#000"/>
<rect x="1086" y="465" width="1" height="2" fill="#000"/>
<rect x="1090" y="660" width="1" height="4" fill="#000"/>
<rect x="1090" y="465" width="1" height="2" fill="#000"/>
<rect x="1094" y="660" width="1" height="4" fill="#000"/>
<rect x="1094" y="465" width="1" height="2" fill="#000"/>
<rect x="1098" y="660" width="1" height="4" fill="#000"/>
<rect x="1098" y="465" width="1" height="2" fill="#000"/>
<rect x="1102" y="660" width="1" height="4" fill="#000"/>
<rect x="1102" y="465" width="1" height="2" fill="#000"/>
<rect x="1106" y="658" width="1" height="8" fill="#000"/>
<rect x="1106" y="465" width="1" height="4" fill="#000"/>
<rect x="636" y="465" width="8" height="1" fill="#000"/>
<rect x="1102" y="465" width="5" height="1" fill="#000"/>
<rect x="638" y="469" width="4" height="1" fill="#000"/>
<rect x="1104" y="469" width="3" height="1" fill="#000"/>
<rect x="638" y="473" width="4" height="1" fill="#000"/>
<rect x="1104" y="473" width="3" height="1" fill="#000"/>
<rect x="638" y="477" width="4" height="1" fill="#000"/>
<rect x="1104" y="477" width="3" height="1" fill="#000"/>
<rect x="638" y="481" width="4" height="1" fill="#000"/>
<rect x="1104" y="481" width="3" height="1" fill="#000"/>
<rect x="636" y="485" width="8" height="1" fill="#000"/>
<rect x="1102" y="485" width="5" height="1" fill="#000"/>
<rect x="638" y="488" width="4" height="1" fill="#000"/>
<rect x="1104" y="488" width="3" height="1" fill="#000"/>
<rect x="638" y="492" width="4" height="1" fill="#000"/>
<rect x="1104" y="492" width="3" height="1" fill="#000"/>
<rect x="638" y="496" width="4" height="1" fill="#000"/>
<rect x="1104" y="496" width="3" height="1" fill="#000"/>
<rect x="638" y="500" width="4" height="1" fill="#000"/>
<rect x="1104" y="500" width="3" height="1" fill="#000"/>
<rect x="636" y="504" width="8" height="1" fill="#000"/>
<rect x="1102" y="504" width="5" height="1" fill="#000"/>
<rect x="638" y="508" width="4" height="1" fill="#000"/>
<rect x="1104" y="508" width="3" height="1" fill="#000"/>
<rect x="638" y="512" width="4" height="1" fill="#000"/>
<rect x="1104" y="512" width="3" height="1" fill="#000"/>
<rect x="638" y="516" width="4" height="1" fill="#000"/>
<rect x="1104" y="516" width="3" height="1" fill="#000"/>
<rect x="638" y="520" width="4" height="1" fill="#000"/>
<rect x="1104" y="520" width="3" height="1" fill="#000"/>
<rect x="636" y="524" width="8" height="1" fill="#000"/>
<rect x="1102" y="524" width="5" height="1" fill="#000"/>
<rect x="638" y="528" width="4" height="1" fill="#000"/>
<rect x="1104" y="528" width="3" height="1" fill="#000"/>
<rect x="638" y="532" width="4" height="1" fill="#000"/>
<rect x="1104" y="532" width="3" height="1" fill="#000"/>
<rect x="638" y="536" width="4" height="1" fill="#000"/>
<rect x="1104" y="536" width="3" height="1" fill="#000"/>
<rect x="638" y="540" width="4" height="1" fill="#000"/>
<rect x="1104" y="540" width="3" height="1" fill="#000"/>
<rect x="636" y="544" width="8" height="1" fill="#000"/>
<rect x="1102" y="544" width="5" height="1" fill="#000"/>
<rect x="638" y="548" width="4" height="1" fill="#000"/>
<rect x="1104" y="548" width="3" height="1" fill="#000"/>
<rect x="638" y="552" width="4" height="1" fill="#000"/>
<rect x="1104" y="552" width="3" height="1" fill="#000"/>
<rect x="638" y="555" width="4" height="1" fill="#000"/>
<rect x="1104" y="555" width="3" height="1" fill="#000"/>
<rect x="638" y="559" width="4" height="1" fill="#000"/>
<rect x="1104" y="559" width="3" height="1" fill="#000"/>
<rect x="636" y="563" width="8" height="1" fill="#000"/>
<rect x="1102" y="563" width="5" height="1" fill="#000"/>
<rect x="638" y="567" width="4" height="1" fill="#000"/>
<rect x="1104" y="567" width="3" height="1" fill="#000"/>
<rect x="638" y="571" width="4" height="1" fill="#000"/>
<rect x="1104" y="571" width="3" height="1" fill="#000"/>
<rect x="638" y="575" width="4" height="1" fill="#000"/>
<rect x="1104" y="575" width="3" height="1" fill="#000"/>
<rect x="638" y="579" width="4" height="1" fill="#000"/>
<rect x="1104" y="579" width="3" height="1" fill="#000"/>
<rect x="636" y="583" width="8" height="1" fill="#000"/>
<rect x="1102" y="583" width="5" height="1" fill="#000"/>
<rect x="638" y="587" width="4" height="1" fill="#000"/>
<rect x="1104" y="587" width="3" height="1" fill="#000"/>
<rect x="638" y="591" width="4" height="1" fill="#000"/>
<rect x="1104" y="591" width="3" height="1" fill="#000"/>
<rect x="638" y="595" width="4" height="1" fill="#000"/>
<rect x="1104" y="595" width="3" height="1" fill="#000"/>
<rect x="638" y="599" width="4" height="1" fill="#000"/>
<rect x="1104" y="599" width="3" height="1" fill="#000"/>
<rect x="636" y="603" width="8" height="1" fill="#000"/>
<rect x="1102" y="603" width="5" height="1" fill="#000"/>
<rect x="638" y="607" width="4" height="1" fill="#000"/>
<rect x="1104" y="607" width="3" height="1" fill="#000"/>
<rect x="638" y="611" width="4" height="1" fill="#000"/>
<rect x="1104" y="611" width="3" height="1" fill="#000"/>
<rect x="638" y="615" width="4" height="1" fill="#000"/>
<rect x="1104" y="615" width="3" height="1" fill="#000"/>
<rect x="638" y="619" width="4" height="1" fill="#000"/>
<rect x="1104" y="619" width="3" height="1" fill="#000"/>
<rect x="636" y="622" width="8" height="1" fill="#000"/>
<rect x="1102" y="622" width="5" height="1" fill="#000"/>
<rect x="638" y="626" width="4" height="1" fill="#000"/>
<rect x="1104" y="626" width="3" height="1" fill="#000"/>
<rect x="638" y="630" width="4" height="1" fill="#000"/>
<rect x="1104" y="630" width="3" height="1" fill="#000"/>
<rect x="638" y="634" width="4" height="1" fill="#000"/>
<rect x="1104" y="634" width="3" height="1" fill="#000"/>
<rect x="638" y="638" width="4" height="1" fill="#000"/>
<rect x="1104" y="638" width="3" height="1" fill="#000"/>
<rect x="636" y="642" width="8" height="1" fill="#000"/>
<rect x="1102" y="642" width="5" height="1" fill="#000"/>
<rect x="638" y="646" width="4" height="1" fill="#000"/>
<rect x="1104" y="646" width="3" height="1" fill="#000"/>
<rect x="638" y="650" width="4" height="1" fill="#000"/>
<rect x="1104" y="650" width="3" height="1" fill="#000"/>
<rect x="638" y="654" width="4" height="1" fill="#000"/>
<rect x="1104" y="654" width="3" height="1" fill="#000"/>
<rect x="638" y="658" width="4" height="1" fill="#000"/>
<rect x="1104" y="658" width="3" height="1" fill="#000"/>
<rect x="636" y="662" width="8" height="1" fill="#000"/>
<rect x="1102" y="662" width="5" height="1" fill="#000"/>
<rect x="640" y="617" width="1" height="25" fill="#f00"/><rect x="641" y="603" width="1" height="14" fill="#f00"/><rect x="642" y="590" width="1" height="13" fill="#f00"/><rect x="643" y="575" width="1" height="15" fill="#f00"/><rect x="644" y="563" width="1" height="12" fill="#f00"/><rect x="645" y="556" width="1" height="7" fill="#f00"/><rect x="646" y="538" width="1" height="18" fill="#f00"/><rect x="647" y="535" width="1" height="17" fill="#f00"/><rect x="648" y="528" width="1" height="7" fill="#f00"/><rect x="649" y="521" width="1" height="7" fill="#f00"/><rect x="650" y="512" width="1" height="9" fill="#f00"/><rect x="651" y="508" width="1" height="4" fill="#f00"/><rect x="652" y="496" width="1" height="12" fill="#f00"/><rect x="653" y="489" width="1" height="7" fill="#f00"/><rect x="654" y="488" width="1" height="4" fill="#f00"/>
<text x="639.53" y="679.3" font-size="10.7" text-anchor="middle">0</text>
<text x="678.372" y="679.3" font-size="10.7" text-anchor="middle">100</text>
<text x="717.213" y="679.3" font-size="10.7" text-anchor="middle">200</text>
<text x="756.055" y="679.3" font-size="10.7" text-anchor="middle">300</text>
<text x="794.897" y="679.3" font-size="10.7" text-anchor="middle">400</text>
<text x="833.738" y="679.3" font-size="10.7" text-anchor="middle">500</text>
<text x="872.58" y="679.3" font-size="10.7" text-anchor="middle">600</text>
<text x="911.422" y="679.3" font-size="10.7" text-anchor="middle">700</text>
<text x="950.263" y="679.3" font-size="10.7" text-anchor="middle">800</text>
<text x="989.105" y="679.3" font-size="10.7" text-anchor="middle">900</text>
<text x="1027.95" y="679.3" font-size="10.7" text-anchor="middle">1000</text>
<text x="1066.79" y="679.3" font-size="10.7" text-anchor="middle">1100</text>
<text x="1105.63" y="679.3" font-size="10.7" text-anchor="middle">1200</text>
<text x="629.3" y="467.95" font-size="10.7" text-anchor="end">7.99</text>
<text x="629.3" y="487.65" font-size="10.7" text-anchor="end">7.98</text>
<text x="629.3" y="507.35" font-size="10.7" text-anchor="end">7.97</text>
<text x="629.3" y="527.05" font-size="10.7" text-anchor="end">7.96</text>
<text x="629.3" y="546.75" font-size="10.7" text-anchor="end">7.95</text>
<text x="629.3" y="566.45" font-size="10.7" text-anchor="end">7.94</text>
<text x="629.3" y="586.15" font-size="10.7" text-anchor="end">7.93</text>
<text x="629.3" y="605.85" font-size="10.7" text-anchor="end">7.92</text>
<text x="629.3" y="625.55" font-size="10.7" text-anchor="end">7.91</text>
<text x="629.3" y="645.25" font-size="10.7" text-anchor="end">7.90</text>
<text x="629.3" y="664.95" font-size="10.7" text-anchor="end">7.89</text>
<text x="854.05" y="437.9" font-size="13.12" text-anchor="middle" font-weight="bold">Voltage-Time wive</text>
<text x="873" y="696" font-size="11.2" text-anchor="middle" font-weight="bold">Time(s)</text>
<g transform="translate(597.2 564) rotate(-90)">
<text x="0" y="0" font-size="11.2" text-anchor="middle" font-weight="bold">Voltage(V)</text>
</g>
<rect x="639" y="449" width="72" height="12" fill="#000"/>
<rect x="640" y="450" width="70" height="10" fill="#fff"/>
<rect x="639" y="449" width="1" height="1" fill="#fff"/>
<rect x="639" y="460" width="1" height="1" fill="#fff"/>
<rect x="710" y="449" width="1" height="1" fill="#fff"/>
<rect x="710" y="460" width="1" height="1" fill="#fff"/>
<rect x="642" y="454" width="23" height="1" fill="#f00"/>
<text x="671" y="456.8" font-size="10.5" text-anchor="start">Voltage</text>
</svg>
</body></html>
